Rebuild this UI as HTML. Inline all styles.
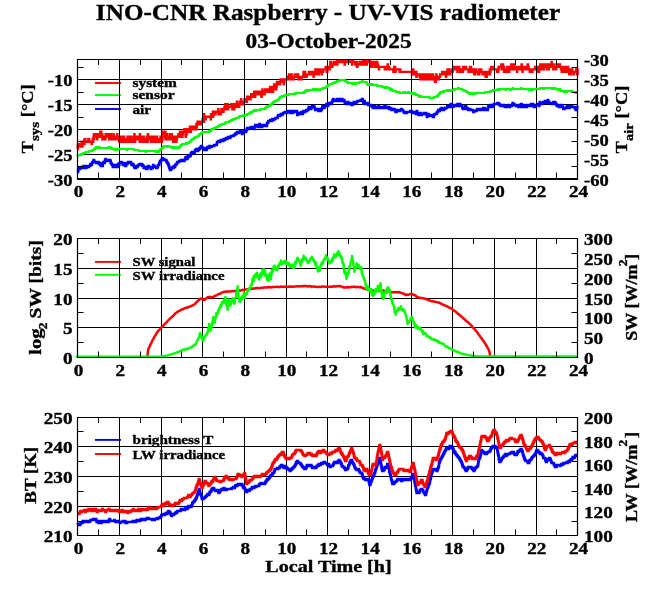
<!DOCTYPE html>
<html><head><meta charset="utf-8"><title>INO-CNR Raspberry - UV-VIS radiometer</title><style>html,body{margin:0;padding:0;background:#fff;width:660px;height:595px;overflow:hidden;}svg{display:block;will-change:transform;}text{stroke:#000;stroke-width:0.35px;}</style></head><body>
<svg width="660" height="595" viewBox="0 0 660 595" font-family="'Liberation Serif', serif" font-weight="bold">
<rect width="660" height="595" fill="#fff"/>
<text x="328.00" y="19.90" font-size="24.03" text-anchor="middle" textLength="464.24" lengthAdjust="spacingAndGlyphs">INO-CNR Raspberry - UV-VIS radiometer</text>
<text x="328.55" y="47.70" font-size="20.66" text-anchor="middle" textLength="166.04" lengthAdjust="spacingAndGlyphs">03-October-2025</text>
<path d="M77.5 79.5H577.5M77.5 104.5H577.5M77.5 129.5H577.5M77.5 154.5H577.5" stroke="#000" stroke-width="1" fill="none"/>
<clipPath id="c59"><rect x="76.0" y="59.5" width="503.0" height="120.5"/></clipPath>
<g clip-path="url(#c59)">
<path d="M77.5 149.1H77.7V146.6H78.0V144.1H78.2V146.6H78.5V144.1H78.7V146.6H79.3V144.1H79.8V146.6H80.3V144.1H81.0V146.6H81.2V144.1H81.7V141.7H81.8V146.6H82.0V144.1H82.3V146.6H82.5V141.7H82.7V144.1H83.7V141.7H84.3V144.1H84.5V139.2H84.7V141.7H85.0V139.2H85.3V141.7H88.3V139.2H88.5V141.7H89.0V139.2H89.2V141.7H91.7V144.1H91.8V141.7H92.7V139.2H93.0V141.7H93.2V139.2H93.5V136.7H93.8V139.2H94.0V134.2H94.2V139.2H94.3V136.7H94.8V134.2H95.0V136.7H95.3V134.2H95.7V136.7H96.8V134.2H97.0V136.7H97.2V139.2H97.3V134.2H97.8V136.7H98.3V134.2H98.5V136.7H100.2V134.2H100.3V131.7H100.5V134.2H100.7V136.7H100.8V134.2H101.2V131.7H101.3V136.7H101.5V134.2H102.3V139.2H102.5V136.7H102.7V139.2H102.8V136.7H104.0V139.2H104.2V136.7H105.3V139.2H105.5V136.7H105.7V134.2H105.8V136.7H107.7V134.2H107.8V136.7H109.2V139.2H109.3V134.2H109.5V136.7H109.8V134.2H110.0V136.7H110.3V134.2H110.5V139.2H110.7V136.7H110.8V134.2H111.0V136.7H112.8V139.2H113.0V136.7H113.5V134.2H113.7V136.7H114.5V139.2H114.8V136.7H115.0V139.2H115.3V136.7H115.8V139.2H116.0V136.7H116.3V139.2H116.5V136.7H117.2V134.2H117.3V136.7H117.5V139.2H117.7V136.7H117.8V139.2H118.5V136.7H118.7V139.2H118.8V136.7H119.0V139.2H119.2V141.7H119.3V139.2H119.7V136.7H119.8V139.2H120.5V141.7H120.7V139.2H121.0V136.7H121.2V139.2H121.5V136.7H121.7V139.2H122.5V141.7H122.7V139.2H124.0V136.7H124.2V139.2H124.3V141.7H124.5V139.2H124.8V141.7H125.0V139.2H125.2V141.7H125.3V139.2H126.2V141.7H126.3V139.2H126.7V141.7H127.0V139.2H127.3V141.7H127.5V136.7H128.0V141.7H128.2V136.7H128.4V139.2H128.7V141.7H128.9V136.7H129.0V139.2H129.4V141.7H129.5V139.2H130.7V136.7H130.9V139.2H131.5V141.7H131.7V139.2H132.7V141.7H132.9V139.2H133.5V136.7H133.7V141.7H134.2V139.2H134.4V134.2H134.5V139.2H135.0V141.7H135.2V139.2H135.9V136.7H136.0V139.2H136.5V136.7H136.7V139.2H138.0V136.7H138.2V139.2H138.9V136.7H139.0V139.2H139.7V141.7H139.9V134.2H140.0V136.7H140.2V139.2H140.9V136.7H141.2V139.2H141.4V141.7H141.5V139.2H141.7V141.7H141.9V139.2H142.5V136.7H142.9V141.7H143.0V139.2H143.5V136.7H143.7V139.2H144.0V141.7H144.2V139.2H144.9V141.7H145.0V139.2H145.2V141.7H145.4V139.2H145.5V141.7H145.7V139.2H146.7V136.7H146.9V139.2H147.4V136.7H147.5V141.7H147.7V136.7H147.9V134.2H148.0V136.7H148.7V139.2H149.7V136.7H149.9V139.2H150.5V136.7H150.9V141.7H151.0V139.2H151.5V136.7H151.7V141.7H151.9V139.2H152.0V141.7H152.2V139.2H153.2V141.7H153.4V136.7H153.5V139.2H155.4V141.7H155.5V136.7H155.7V139.2H156.4V141.7H156.5V139.2H156.9V136.7H157.0V139.2H157.9V141.7H158.0V139.2H158.2V141.7H158.4V139.2H159.7V141.7H160.0V139.2H160.5V136.7H160.7V139.2H161.0V141.7H161.4V139.2H161.5V141.7H161.9V136.7H162.4V139.2H162.5V136.7H162.7V131.7H162.9V134.2H163.2V136.7H163.4V134.2H164.5V131.7H164.9V134.2H165.2V131.7H165.4V139.2H165.5V134.2H165.7V136.7H166.0V139.2H166.2V136.7H166.9V134.2H167.2V136.7H167.7V139.2H167.9V136.7H169.9V134.2H170.0V139.2H170.2V136.7H171.4V139.2H171.5V136.7H171.7V134.2H171.9V136.7H172.5V139.2H173.2V141.7H173.4V139.2H173.5V141.7H173.7V139.2H174.5V136.7H174.7V139.2H176.2V141.7H176.4V136.7H176.7V139.2H176.9V136.7H178.4V134.2H178.7V136.7H178.9V134.2H180.0V131.7H180.2V134.2H180.7V131.7H180.9V134.2H181.2V136.7H181.4V134.2H182.0V131.7H182.2V136.7H182.4V134.2H183.0V131.7H184.4V129.2H184.5V131.7H185.2V129.2H185.5V131.7H185.7V136.7H185.9V131.7H186.5V134.2H186.7V131.7H187.4V129.2H187.5V131.7H188.4V129.2H189.5V131.7H189.7V129.2H189.9V126.7H190.0V129.2H190.2V126.7H190.4V129.2H190.7V131.7H190.9V129.2H191.0V126.7H191.7V129.2H191.9V126.7H192.0V129.2H192.2V126.7H193.5V129.2H193.9V126.7H195.7V129.2H195.9V126.7H196.2V129.2H196.4V124.2H196.5V126.7H196.7V124.2H197.5V121.7H197.7V124.2H199.7V121.7H201.0V124.2H201.5V121.7H202.7V119.2H202.9V121.7H203.2V119.2H203.9V121.7H204.0V114.3H204.2V116.8H204.4V119.2H204.5V116.8H205.7V119.2H205.9V116.8H210.7V119.2H210.9V116.8H211.0V114.3H211.2V116.8H212.9V111.8H213.0V116.8H213.2V114.3H214.2V111.8H214.4V114.3H214.9V111.8H215.2V114.3H215.5V111.8H218.2V109.3H218.4V114.3H218.5V111.8H219.5V114.3H219.7V111.8H220.7V114.3H220.9V111.8H221.4V109.3H223.4V111.8H223.5V109.3H224.5V106.8H225.2V104.3H225.4V106.8H226.0V104.3H226.2V106.8H226.5V109.3H226.7V106.8H227.4V104.3H227.6V106.8H228.1V109.3H228.2V106.8H231.4V104.3H231.7V106.8H232.4V109.3H232.6V106.8H232.7V104.3H232.9V106.8H234.2V109.3H234.4V106.8H234.7V104.3H234.9V106.8H235.1V104.3H235.4V106.8H235.6V104.3H235.9V106.8H236.1V104.3H236.7V106.8H236.9V101.8H237.2V104.3H238.4V106.8H238.6V104.3H239.1V106.8H239.2V104.3H239.9V101.8H240.4V104.3H240.9V101.8H241.1V99.3H241.2V101.8H241.6V104.3H241.7V101.8H242.9V104.3H243.1V101.8H244.6V99.3H244.7V101.8H244.9V99.3H245.7V101.8H245.9V99.3H246.1V101.8H246.2V99.3H246.7V101.8H246.9V99.3H247.2V96.8H247.4V99.3H249.6V96.8H249.7V99.3H250.6V96.8H251.2V94.3H251.4V96.8H252.1V94.3H252.2V96.8H252.6V94.3H252.9V96.8H253.2V94.3H253.7V96.8H253.9V94.3H254.1V91.8H254.2V94.3H254.4V96.8H254.6V94.3H254.7V91.8H254.9V94.3H255.1V96.8H255.2V94.3H256.9V91.8H257.1V94.3H257.4V91.8H258.6V94.3H258.7V91.8H259.4V94.3H260.2V91.8H260.4V94.3H261.4V96.8H261.7V94.3H261.9V91.8H262.4V89.4H262.6V94.3H262.7V91.8H264.2V94.3H264.4V91.8H264.6V94.3H264.7V91.8H265.2V89.4H265.4V91.8H265.6V89.4H265.7V91.8H265.9V89.4H266.1V91.8H267.1V89.4H267.2V91.8H268.9V89.4H270.1V86.9H270.2V91.8H270.4V86.9H270.6V89.4H271.7V86.9H272.1V89.4H272.7V91.8H273.1V89.4H273.4V86.9H273.7V89.4H273.9V86.9H274.1V84.4H274.2V86.9H275.4V84.4H275.7V86.9H276.1V89.4H276.2V86.9H276.6V84.4H276.9V81.9H277.1V84.4H278.6V81.9H278.7V84.4H279.1V81.9H279.2V84.4H280.1V81.9H280.6V79.4H280.9V81.9H281.1V79.4H281.2V81.9H282.2V79.4H282.4V81.9H282.9V79.4H283.1V81.9H283.7V84.4H283.9V81.9H284.4V79.4H287.7V76.9H288.9V74.4H289.2V76.9H289.6V79.4H289.7V76.9H290.2V74.4H290.4V76.9H291.1V79.4H291.2V76.9H291.6V74.4H291.7V76.9H291.9V79.4H292.1V76.9H292.6V79.4H292.7V76.9H293.1V79.4H293.2V76.9H293.7V79.4H293.9V76.9H294.7V74.4H294.9V76.9H296.4V74.4H296.6V76.9H298.1V74.4H298.2V76.9H298.4V79.4H298.6V76.9H299.6V79.4H299.7V76.9H301.4V79.4H301.6V76.9H303.4V74.4H303.6V71.9H303.7V74.4H304.1V76.9H304.2V74.4H304.9V71.9H305.1V74.4H305.6V76.9H305.7V74.4H306.6V76.9H306.7V74.4H308.9V71.9H309.1V74.4H309.4V71.9H309.6V74.4H311.1V71.9H311.2V74.4H313.1V71.9H313.4V74.4H313.6V76.9H313.7V71.9H313.9V74.4H314.1V71.9H314.6V74.4H314.7V71.9H315.4V69.4H315.6V74.4H315.7V71.9H316.1V74.4H316.4V71.9H317.2V69.4H317.6V71.9H317.7V74.4H317.9V71.9H318.4V74.4H318.6V71.9H318.7V74.4H318.9V71.9H319.4V69.4H319.6V71.9H320.2V69.4H320.6V71.9H321.6V74.4H321.7V71.9H323.1V69.4H325.6V66.9H325.7V69.4H326.6V71.9H326.7V66.9H326.9V69.4H327.2V71.9H327.4V69.4H327.9V66.9H328.1V69.4H328.3V66.9H328.6V69.4H328.8V66.9H329.6V69.4H329.9V66.9H330.3V62.0H330.4V66.9H330.6V64.5H330.9V66.9H331.1V62.0H331.3V64.5H331.6V66.9H331.8V64.5H332.3V66.9H332.4V64.5H334.1V62.0H334.3V64.5H334.9V62.0H335.1V64.5H335.3V62.0H336.8V64.5H336.9V59.5H337.1V64.5H337.3V59.5H337.4V62.0H338.3V59.5H338.4V62.0H339.9V59.5H340.1V62.0H340.6V59.5H340.8V62.0H342.4V59.5H342.8V62.0H343.1V59.5H343.3V62.0H344.3V59.5H344.4V62.0H344.6V64.5H344.8V59.5H344.9V62.0H345.1V59.5H345.4V62.0H346.4V59.5H346.6V62.0H347.1V59.5H347.3V62.0H349.4V59.5H349.6V62.0H352.1V64.5H352.3V62.0H352.4V59.5H352.6V62.0H355.3V64.5H355.4V62.0H355.8V64.5H356.9V66.9H357.1V62.0H357.3V66.9H357.4V64.5H360.1V62.0H360.6V64.5H360.8V62.0H361.4V64.5H361.6V62.0H362.8V64.5H362.9V62.0H363.1V59.5H363.3V64.5H363.4V62.0H363.8V64.5H363.9V62.0H365.6V59.5H365.8V62.0H366.3V64.5H366.4V62.0H366.6V64.5H366.8V62.0H368.4V59.5H368.6V62.0H368.8V59.5H368.9V62.0H369.6V59.5H369.8V62.0H370.4V64.5H370.8V62.0H371.3V66.9H371.4V64.5H371.6V66.9H371.8V64.5H371.9V62.0H372.1V64.5H372.3V66.9H372.4V64.5H372.9V62.0H373.3V64.5H374.3V62.0H374.4V64.5H374.9V62.0H375.1V66.9H375.3V64.5H375.6V62.0H375.8V64.5H377.1V62.0H377.3V64.5H377.6V66.9H377.8V64.5H378.1V66.9H378.9V69.4H379.1V66.9H384.8V69.4H384.9V66.9H386.9V69.4H387.1V66.9H387.3V69.4H387.4V66.9H387.6V64.5H387.8V69.4H389.1V66.9H389.3V69.4H393.3V71.9H393.4V69.4H394.1V66.9H394.3V69.4H394.4V66.9H394.8V69.4H394.9V66.9H395.1V69.4H395.4V71.9H395.6V69.4H399.6V71.9H399.8V69.4H400.3V71.9H411.9V74.4H412.1V71.9H413.1V69.4H413.3V71.9H413.6V74.4H413.8V71.9H413.9V74.4H414.1V71.9H414.9V74.4H416.3V71.9H416.4V76.9H416.6V74.4H419.6V76.9H419.8V74.4H420.3V79.4H420.4V76.9H421.3V79.4H421.4V76.9H422.1V79.4H422.3V76.9H422.6V74.4H422.8V76.9H424.3V74.4H424.4V76.9H424.6V79.4H424.8V76.9H425.4V79.4H425.6V76.9H425.8V74.4H426.1V76.9H426.3V79.4H426.4V74.4H426.6V76.9H427.3V74.4H427.4V76.9H428.0V79.4H428.3V76.9H429.5V74.4H429.6V79.4H430.0V76.9H430.3V74.4H430.5V76.9H430.8V79.4H431.0V76.9H431.8V74.4H432.0V76.9H433.0V74.4H433.1V79.4H434.5V76.9H434.6V79.4H435.0V81.9H435.1V79.4H435.3V81.9H435.5V79.4H435.6V81.9H435.8V76.9H436.0V79.4H436.1V76.9H436.3V74.4H436.5V76.9H437.3V79.4H437.5V76.9H437.6V79.4H438.0V76.9H438.5V79.4H438.6V76.9H438.8V79.4H439.0V76.9H440.1V74.4H442.1V71.9H442.3V74.4H443.8V71.9H444.6V74.4H445.8V71.9H446.0V76.9H446.1V74.4H446.3V71.9H447.5V69.4H447.8V71.9H448.1V74.4H448.3V71.9H448.8V69.4H449.0V71.9H450.1V74.4H450.3V71.9H451.6V69.4H452.0V71.9H452.1V69.4H452.5V71.9H452.6V69.4H453.6V66.9H454.0V69.4H455.1V66.9H455.3V69.4H456.0V66.9H456.1V69.4H456.5V66.9H456.6V69.4H457.5V71.9H457.6V69.4H458.3V66.9H458.5V69.4H459.1V66.9H459.3V69.4H460.1V71.9H460.3V69.4H461.5V71.9H461.6V69.4H462.8V71.9H463.0V69.4H463.1V66.9H463.3V69.4H464.0V66.9H464.1V69.4H465.8V66.9H466.0V69.4H468.5V71.9H468.6V69.4H470.0V66.9H470.1V69.4H470.8V71.9H471.0V66.9H471.1V69.4H471.5V71.9H471.6V69.4H472.5V71.9H472.8V69.4H473.5V71.9H474.1V74.4H474.3V71.9H474.8V74.4H475.1V71.9H475.6V69.4H475.8V71.9H476.1V69.4H476.3V71.9H478.0V74.4H478.1V71.9H479.1V74.4H479.3V69.4H479.5V71.9H481.1V69.4H481.3V71.9H482.5V74.4H483.5V71.9H483.8V74.4H484.6V71.9H484.8V74.4H485.6V76.9H485.8V74.4H486.0V76.9H486.1V74.4H486.3V71.9H486.5V74.4H486.6V76.9H486.8V71.9H487.6V74.4H487.8V71.9H489.6V74.4H489.8V69.4H490.0V71.9H490.5V69.4H491.1V66.9H491.3V69.4H493.3V66.9H493.5V69.4H497.0V71.9H497.1V69.4H498.0V71.9H498.3V69.4H498.6V66.9H501.3V64.5H501.5V66.9H501.6V69.4H502.3V66.9H503.0V64.5H503.1V66.9H503.3V69.4H503.5V66.9H503.8V69.4H504.0V71.9H504.1V69.4H504.5V71.9H504.6V69.4H505.8V71.9H506.0V69.4H507.1V66.9H507.5V69.4H507.8V71.9H508.0V69.4H508.6V71.9H508.8V69.4H509.0V66.9H509.1V71.9H509.3V69.4H509.5V66.9H509.6V69.4H511.0V66.9H511.3V64.5H511.5V66.9H511.8V69.4H512.0V66.9H512.1V64.5H512.5V66.9H513.0V69.4H513.1V66.9H513.8V64.5H514.0V66.9H514.1V69.4H514.3V66.9H516.3V69.4H516.6V66.9H516.8V69.4H517.0V71.9H517.1V69.4H517.3V66.9H517.5V69.4H519.0V66.9H521.1V69.4H521.3V66.9H521.6V64.5H521.8V66.9H522.3V69.4H522.5V71.9H522.6V69.4H523.0V66.9H523.5V69.4H524.1V66.9H524.5V69.4H525.8V66.9H526.3V69.4H527.0V66.9H527.7V64.5H528.0V69.4H528.2V66.9H528.3V69.4H528.5V66.9H528.7V69.4H529.8V71.9H530.0V69.4H531.2V71.9H531.3V69.4H532.0V71.9H532.2V69.4H532.3V71.9H532.5V69.4H535.0V66.9H535.2V69.4H536.3V66.9H536.5V69.4H536.7V66.9H536.8V69.4H537.0V66.9H537.2V69.4H537.3V71.9H537.5V69.4H538.0V66.9H538.3V69.4H538.8V71.9H539.2V69.4H540.2V64.5H540.3V69.4H540.5V66.9H540.7V69.4H540.8V66.9H541.5V69.4H542.0V66.9H542.7V64.5H542.8V66.9H543.0V69.4H543.2V66.9H543.3V64.5H543.5V66.9H543.7V69.4H543.8V66.9H545.3V64.5H545.5V66.9H545.7V64.5H546.0V66.9H546.5V64.5H546.7V66.9H546.8V69.4H547.0V66.9H548.5V69.4H548.7V64.5H548.8V69.4H549.0V66.9H550.2V64.5H550.3V66.9H550.5V64.5H551.0V66.9H551.3V64.5H551.5V62.0H551.7V64.5H552.0V66.9H552.2V64.5H552.3V66.9H552.5V64.5H552.7V66.9H552.8V64.5H553.3V69.4H553.5V64.5H553.7V66.9H556.0V69.4H556.2V66.9H556.5V64.5H556.7V66.9H557.5V64.5H557.7V66.9H557.8V64.5H558.0V66.9H559.8V64.5H560.0V66.9H561.0V69.4H561.8V71.9H562.0V69.4H562.5V71.9H562.7V69.4H563.5V66.9H563.7V69.4H563.8V71.9H564.0V69.4H564.2V71.9H564.3V69.4H565.5V66.9H565.7V69.4H566.2V71.9H566.3V69.4H566.5V71.9H566.7V69.4H567.0V66.9H567.2V71.9H567.5V69.4H568.0V66.9H568.2V69.4H568.7V71.9H569.2V74.4H569.3V71.9H570.0V69.4H570.2V71.9H571.0V74.4H571.2V71.9H572.2V69.4H572.3V71.9H573.8V74.4H574.0V71.9H576.2V69.4H576.3V71.9H577.2V74.4H577.3V69.4H577.5V74.4H577.5" fill="none" stroke="#ff0000" stroke-width="2.40" stroke-linejoin="miter" stroke-linecap="butt"/>
</g>
<path d="M119.5 59.5V178.0M161.5 59.5V178.0M202.5 59.5V178.0M244.5 59.5V178.0M286.5 59.5V178.0M327.5 59.5V178.0M369.5 59.5V178.0M411.5 59.5V178.0M452.5 59.5V178.0M494.5 59.5V178.0M536.5 59.5V178.0" stroke="#000" stroke-width="1" fill="none"/>
<g clip-path="url(#c59)">
<path d="M77.5 156.00H77.7V155.00H80.8V154.00H81.1V155.00H81.5V154.00H83.2V153.00H85.7V152.00H89.1V151.00H92.3V150.00H94.0V149.00H95.0V148.00H96.1V147.00H97.8V148.00H99.2V147.00H99.6V148.00H108.6V147.00H109.3V148.00H109.6V147.00H110.0V148.00H112.1V149.00H114.5V150.00H114.9V149.00H116.9V150.00H117.3V149.00H127.0V150.00H127.4V149.00H134.0V150.00H138.8V151.00H145.8V152.00H146.1V151.00H155.5V152.00H155.9V151.00H156.2V152.00H156.5V151.00H157.2V152.00H158.6V151.00H159.7V150.00H160.4V149.00H162.1V148.00H163.1V147.00H163.8V146.00H167.0V147.00H167.3V146.00H169.8V147.00H172.2V148.00H173.9V147.00H174.6V148.00H177.4V147.00H177.7V148.00H178.1V147.00H178.8V148.00H179.1V147.00H180.2V146.00H180.9V145.00H182.3V144.00H186.1V143.00H186.4V144.00H186.8V143.00H188.9V142.00H190.3V141.00H191.3V140.00H192.3V139.00H194.1V138.00H195.1V137.00H197.5V136.00H198.9V135.00H199.6V134.00H201.4V133.00H202.4V132.00H209.4V131.00H210.8V130.00H211.4V129.00H214.2V128.00H216.3V127.00H218.0V126.00H219.4V125.00H221.5V124.00H225.0V123.00H226.0V122.00H229.2V121.00H231.3V120.00H233.3V119.00H233.7V120.00H234.0V119.00H235.8V118.00H238.5V117.00H239.6V116.00H243.4V115.00H244.1V116.00H245.2V115.00H247.2V114.00H249.3V113.00H250.7V112.00H251.1V113.00H251.4V112.00H252.8V111.00H254.2V110.00H254.5V111.00H254.9V110.00H255.2V111.00H256.3V110.00H260.4V109.00H265.3V108.00H266.0V107.00H267.4V106.00H267.7V107.00H268.1V106.00H269.8V105.00H271.2V104.00H272.3V103.00H273.3V102.00H274.7V101.00H276.8V100.00H278.5V99.00H279.2V98.00H280.2V97.00H282.0V96.00H282.3V97.00H282.7V96.00H284.8V95.00H288.9V94.00H295.5V93.00H303.5V92.00H303.9V93.00H304.6V92.00H305.3V91.00H306.0V90.00H306.3V91.00H306.7V90.00H307.0V91.00H309.1V90.00H312.9V89.00H315.3V90.00H316.7V89.00H317.4V90.00H320.2V89.00H322.6V88.00H325.8V87.00H326.8V86.00H328.2V85.00H329.6V84.00H332.4V83.00H335.1V82.00H337.2V81.00H339.7V80.00H344.9V81.00H346.3V82.00H347.7V83.00H352.2V84.00H353.9V83.00H355.3V84.00H356.0V83.00H359.5V82.00H362.2V81.00H362.6V82.00H366.4V83.00H367.1V84.00H367.8V85.00H369.2V84.00H369.5V85.00H370.9V84.00H372.3V85.00H377.2V86.00H382.1V87.00H384.5V88.00H385.9V87.00H386.2V88.00H386.9V87.00H387.3V88.00H390.0V89.00H390.4V90.00H391.4V89.00H391.8V90.00H392.8V91.00H396.0V92.00H399.4V93.00H403.6V92.00H405.0V93.00H408.1V92.00H408.5V93.00H412.3V94.00H412.6V93.00H413.0V94.00H413.7V93.00H414.4V94.00H416.1V95.00H418.5V96.00H419.2V97.00H419.9V96.00H421.3V97.00H429.7V98.00H433.8V97.00H436.6V96.00H438.0V95.00H438.7V94.00H439.7V93.00H440.4V92.00H443.2V91.00H443.6V92.00H443.9V91.00H446.7V90.00H448.1V91.00H450.5V90.00H454.3V89.00H458.1V88.00H458.8V89.00H462.3V90.00H464.1V91.00H466.5V92.00H467.9V93.00H469.3V94.00H470.0V93.00H470.7V94.00H472.4V93.00H472.7V94.00H475.5V93.00H484.9V92.00H490.5V91.00H492.9V90.00H497.8V89.00H498.8V90.00H500.2V89.00H505.7V90.00H506.1V89.00H510.3V90.00H511.3V89.00H512.7V88.00H513.0V89.00H520.7V88.00H521.7V89.00H528.0V90.00H528.3V89.00H528.7V90.00H529.4V89.00H530.1V90.00H530.4V89.00H531.1V90.00H532.9V89.00H540.1V88.00H543.3V89.00H544.3V88.00H552.0V89.00H552.3V88.00H553.7V89.00H554.4V88.00H555.4V89.00H557.9V90.00H559.6V89.00H560.0V90.00H561.0V91.00H564.1V92.00H564.8V91.00H566.6V92.00H566.9V91.00H572.1V92.00H575.9V93.00H576.3V92.00H577.5" fill="none" stroke="#00ff00" stroke-width="2.20" stroke-linejoin="miter" stroke-linecap="butt"/>
<path d="M77.5 172.00H78.0V171.00H78.4V169.00H78.7V168.00H79.1V169.00H80.1V168.00H80.8V167.00H81.1V168.00H82.2V167.00H83.6V166.00H84.3V168.00H86.4V167.00H86.7V166.00H87.8V167.00H88.8V166.00H90.2V165.00H90.5V164.00H91.2V165.00H91.6V164.00H91.9V163.00H92.6V162.00H93.3V161.00H93.7V160.00H94.0V161.00H94.4V162.00H96.1V163.00H96.4V162.00H97.5V163.00H98.2V162.00H98.5V163.00H98.9V164.00H99.2V163.00H100.3V165.00H101.0V166.00H101.3V165.00H102.0V166.00H102.7V164.00H103.0V163.00H103.4V162.00H104.4V163.00H104.8V161.00H105.1V160.00H105.5V159.00H105.8V160.00H107.2V161.00H108.3V160.00H108.9V161.00H109.6V160.00H110.3V161.00H110.7V163.00H111.4V164.00H112.1V165.00H112.8V167.00H114.2V166.00H114.9V165.00H115.9V167.00H117.6V166.00H118.0V164.00H119.0V165.00H119.4V163.00H120.8V162.00H121.5V163.00H122.8V165.00H123.9V163.00H124.6V164.00H124.9V165.00H125.3V166.00H126.0V165.00H126.3V164.00H127.4V163.00H128.1V162.00H129.1V163.00H129.4V162.00H130.8V163.00H131.5V165.00H132.9V164.00H133.3V165.00H133.6V166.00H134.3V167.00H134.7V168.00H135.4V167.00H135.7V168.00H136.0V167.00H136.7V166.00H137.1V167.00H137.4V166.00H138.1V165.00H139.5V164.00H142.0V165.00H142.3V166.00H142.6V165.00H143.0V166.00H143.7V168.00H144.0V167.00H144.7V168.00H145.1V167.00H146.1V169.00H146.5V168.00H146.8V169.00H147.2V168.00H147.5V167.00H147.9V166.00H148.9V167.00H150.6V169.00H151.3V167.00H151.7V168.00H152.0V167.00H152.4V168.00H152.7V167.00H153.1V165.00H153.4V166.00H154.8V167.00H156.2V168.00H156.5V167.00H156.9V168.00H157.2V167.00H157.9V165.00H159.3V163.00H159.7V162.00H160.0V161.00H160.4V162.00H160.7V161.00H161.1V160.00H161.8V159.00H162.5V158.00H162.8V159.00H164.2V160.00H166.3V161.00H166.6V162.00H167.3V163.00H168.0V164.00H168.4V165.00H168.7V166.00H169.1V167.00H169.4V168.00H169.8V169.00H170.1V170.00H170.8V169.00H171.8V168.00H172.5V167.00H172.9V168.00H173.6V167.00H173.9V166.00H174.6V167.00H175.0V166.00H175.3V165.00H176.0V164.00H177.0V163.00H177.4V162.00H179.1V161.00H180.9V160.00H181.9V161.00H183.0V160.00H184.0V161.00H184.3V160.00H185.0V159.00H185.4V158.00H185.7V157.00H186.4V159.00H186.8V158.00H187.1V159.00H187.5V157.00H187.8V156.00H188.5V157.00H189.2V155.00H189.9V156.00H190.6V155.00H190.9V153.00H192.0V152.00H194.1V153.00H194.4V152.00H194.8V151.00H195.1V150.00H196.2V149.00H196.5V150.00H197.2V151.00H197.9V150.00H198.2V149.00H198.6V150.00H198.9V149.00H199.3V148.00H199.6V149.00H200.0V148.00H200.7V147.00H201.0V146.00H201.7V147.00H202.4V148.00H204.2V149.00H204.5V150.00H205.5V149.00H206.2V150.00H206.6V149.00H206.9V148.00H207.3V147.00H208.3V148.00H209.4V146.00H211.4V147.00H211.8V146.00H214.2V145.00H216.7V144.00H217.0V142.00H218.4V141.00H219.4V142.00H220.1V141.00H220.8V140.00H221.2V141.00H221.5V140.00H222.6V141.00H223.3V140.00H223.6V139.00H224.3V140.00H225.0V139.00H226.0V138.00H227.1V139.00H227.4V138.00H228.1V137.00H228.5V138.00H228.8V137.00H229.2V138.00H229.5V137.00H229.9V138.00H230.2V137.00H230.9V136.00H233.7V135.00H235.1V134.00H235.8V133.00H236.1V134.00H236.5V133.00H237.2V132.00H237.5V133.00H238.5V132.00H238.9V133.00H239.2V132.00H239.9V131.00H240.3V132.00H241.0V131.00H241.3V132.00H242.0V134.00H242.4V133.00H243.8V132.00H244.1V131.00H244.5V130.00H244.8V131.00H245.5V132.00H245.8V131.00H246.5V130.00H246.9V129.00H247.2V128.00H248.3V129.00H248.6V128.00H250.7V127.00H251.8V128.00H252.1V127.00H253.5V128.00H254.2V129.00H254.5V127.00H255.2V125.00H256.3V126.00H257.0V125.00H257.3V126.00H258.0V127.00H258.4V126.00H259.4V124.00H259.7V125.00H260.1V126.00H260.4V127.00H262.2V125.00H264.3V126.00H266.7V125.00H267.0V123.00H268.1V122.00H268.4V121.00H270.2V120.00H271.2V121.00H271.9V120.00H272.3V119.00H272.9V120.00H274.0V119.00H275.4V118.00H277.5V117.00H277.8V116.00H278.2V115.00H278.5V116.00H279.2V115.00H279.9V116.00H280.2V115.00H280.9V114.00H282.0V115.00H282.3V114.00H283.0V113.00H284.8V112.00H285.1V113.00H287.2V112.00H288.2V111.00H289.3V112.00H290.3V113.00H290.7V112.00H291.7V111.00H292.1V112.00H292.8V113.00H293.1V112.00H293.8V111.00H295.5V112.00H296.2V111.00H296.9V112.00H297.3V115.00H298.0V114.00H298.7V113.00H299.7V114.00H300.7V113.00H301.1V112.00H301.4V113.00H302.1V114.00H302.8V113.00H303.2V112.00H303.5V111.00H304.2V112.00H305.3V111.00H306.3V110.00H306.7V111.00H307.0V110.00H308.4V109.00H308.7V107.00H309.4V108.00H310.1V109.00H310.5V108.00H310.8V109.00H311.2V108.00H311.5V107.00H312.2V106.00H312.6V107.00H312.9V106.00H313.3V107.00H313.6V106.00H313.9V107.00H314.6V108.00H315.0V109.00H315.3V110.00H315.7V109.00H316.0V110.00H316.4V109.00H316.7V110.00H317.4V109.00H317.8V110.00H318.5V111.00H318.8V110.00H319.5V109.00H319.9V110.00H320.2V109.00H320.6V111.00H320.9V110.00H321.6V109.00H321.9V108.00H322.3V107.00H322.6V106.00H323.0V107.00H323.3V108.00H324.4V107.00H324.7V106.00H326.1V105.00H326.5V104.00H326.8V105.00H327.5V106.00H327.8V105.00H328.5V104.00H329.2V103.00H329.6V104.00H329.9V103.00H330.3V104.00H330.6V103.00H331.0V104.00H331.3V103.00H331.7V102.00H332.4V101.00H332.7V100.00H333.1V99.00H333.4V100.00H334.4V101.00H336.5V100.00H336.9V99.00H337.2V100.00H337.6V101.00H337.9V100.00H338.3V99.00H338.6V100.00H339.0V101.00H340.4V100.00H340.7V99.00H341.1V100.00H341.4V99.00H342.4V100.00H342.8V101.00H343.1V100.00H343.5V101.00H343.8V100.00H344.2V101.00H344.5V102.00H344.9V103.00H346.3V104.00H347.0V103.00H347.7V102.00H348.3V103.00H348.7V104.00H349.0V103.00H350.8V104.00H351.5V105.00H352.5V104.00H353.2V103.00H353.6V104.00H353.9V102.00H354.6V103.00H356.3V102.00H357.4V101.00H360.5V100.00H360.9V101.00H361.2V100.00H362.2V99.00H362.6V100.00H362.9V101.00H363.3V103.00H363.6V102.00H364.3V101.00H364.7V103.00H365.0V104.00H367.1V103.00H367.5V104.00H368.2V105.00H371.3V106.00H372.3V107.00H373.0V108.00H373.7V107.00H374.8V106.00H375.1V107.00H375.8V108.00H376.1V107.00H377.2V108.00H378.2V107.00H378.6V106.00H378.9V107.00H379.3V108.00H380.0V107.00H381.0V108.00H382.1V107.00H383.1V108.00H384.1V107.00H384.5V106.00H385.5V107.00H386.6V108.00H388.0V107.00H389.0V109.00H390.0V108.00H391.1V109.00H391.4V110.00H392.1V109.00H393.2V110.00H393.5V109.00H394.6V110.00H395.3V111.00H395.6V112.00H396.6V111.00H397.0V110.00H398.7V111.00H399.8V110.00H401.2V109.00H401.5V110.00H402.9V111.00H403.6V112.00H404.3V113.00H405.3V112.00H405.7V113.00H406.7V112.00H410.2V111.00H411.9V112.00H412.3V113.00H413.3V112.00H414.4V113.00H415.8V114.00H416.1V113.00H416.5V112.00H416.8V111.00H417.1V113.00H418.2V114.00H418.5V115.00H420.3V114.00H420.6V113.00H421.0V114.00H421.7V115.00H422.0V114.00H424.1V113.00H426.2V114.00H426.5V115.00H426.9V117.00H427.2V116.00H427.6V115.00H428.3V114.00H428.6V116.00H429.0V115.00H429.3V116.00H430.3V115.00H431.4V116.00H433.1V117.00H433.8V115.00H434.5V114.00H436.6V113.00H437.0V112.00H438.0V111.00H438.3V110.00H439.4V111.00H439.7V110.00H440.1V109.00H441.1V110.00H441.5V108.00H442.5V109.00H442.9V110.00H443.9V109.00H445.3V108.00H447.0V107.00H447.4V106.00H448.1V107.00H449.5V106.00H450.2V105.00H450.8V104.00H451.2V105.00H451.5V106.00H451.9V107.00H453.3V106.00H454.0V105.00H455.0V106.00H455.4V105.00H456.4V106.00H456.8V105.00H457.5V104.00H457.8V105.00H458.8V106.00H459.2V105.00H459.9V104.00H460.2V105.00H460.6V106.00H462.3V108.00H463.0V109.00H463.4V108.00H463.7V109.00H464.1V108.00H464.4V109.00H464.7V108.00H465.1V107.00H465.4V106.00H466.1V108.00H466.5V109.00H467.2V108.00H467.5V109.00H468.2V110.00H469.3V109.00H470.3V110.00H473.1V111.00H473.4V112.00H474.1V111.00H476.6V110.00H477.3V109.00H477.6V110.00H479.3V109.00H481.1V110.00H481.4V109.00H481.8V110.00H482.5V109.00H483.2V108.00H483.5V109.00H483.9V108.00H484.6V109.00H484.9V110.00H485.6V109.00H485.9V110.00H486.3V109.00H487.0V110.00H487.7V109.00H488.0V107.00H488.4V106.00H488.7V107.00H489.8V106.00H490.1V105.00H490.5V106.00H490.8V105.00H491.2V106.00H491.5V107.00H492.5V106.00H493.2V105.00H493.9V104.00H497.4V103.00H498.5V104.00H499.1V105.00H499.5V104.00H499.8V105.00H500.5V106.00H500.9V105.00H501.6V106.00H503.3V105.00H504.4V106.00H504.7V107.00H506.4V106.00H507.5V107.00H508.2V106.00H508.5V105.00H508.9V107.00H509.2V106.00H509.6V107.00H509.9V106.00H512.0V105.00H512.4V104.00H512.7V103.00H513.0V104.00H514.4V105.00H515.8V106.00H516.2V105.00H516.5V106.00H518.3V107.00H519.0V106.00H519.3V105.00H519.6V106.00H520.0V107.00H520.3V106.00H521.0V104.00H521.7V105.00H522.4V106.00H522.8V107.00H523.1V106.00H523.8V105.00H524.2V106.00H524.5V107.00H525.6V106.00H526.2V107.00H526.9V106.00H527.3V105.00H528.0V106.00H528.3V105.00H528.7V106.00H529.4V105.00H529.7V106.00H530.8V105.00H531.1V104.00H531.5V105.00H532.5V104.00H533.2V105.00H533.5V106.00H533.9V107.00H534.6V106.00H534.9V105.00H537.7V104.00H538.1V105.00H538.8V106.00H539.1V105.00H539.5V104.00H539.8V102.00H540.1V103.00H541.2V104.00H542.6V103.00H543.3V102.00H543.6V103.00H544.3V102.00H545.0V101.00H546.1V102.00H546.4V103.00H547.1V102.00H547.4V101.00H547.8V100.00H548.1V101.00H548.5V102.00H549.2V103.00H551.6V104.00H553.0V103.00H553.4V102.00H554.4V103.00H554.7V102.00H555.1V103.00H555.8V104.00H556.5V105.00H556.8V106.00H557.9V105.00H558.6V106.00H558.9V107.00H559.6V106.00H560.0V107.00H560.3V106.00H561.3V105.00H561.7V106.00H562.4V107.00H563.1V108.00H563.4V109.00H564.5V108.00H566.6V107.00H566.9V106.00H567.6V107.00H567.9V106.00H568.3V107.00H568.6V108.00H569.7V106.00H570.0V107.00H571.1V106.00H572.1V107.00H574.5V108.00H575.2V109.00H575.9V110.00H576.3V109.00H577.0V107.00H577.3V108.00H577.5" fill="none" stroke="#0000ff" stroke-width="2.50" stroke-linejoin="miter" stroke-linecap="butt"/>
</g>
<path d="M98.5 178.0V172.5M98.5 59.5V65.0M140.5 178.0V172.5M140.5 59.5V65.0M181.5 178.0V172.5M181.5 59.5V65.0M223.5 178.0V172.5M223.5 59.5V65.0M265.5 178.0V172.5M265.5 59.5V65.0M306.5 178.0V172.5M306.5 59.5V65.0M348.5 178.0V172.5M348.5 59.5V65.0M390.5 178.0V172.5M390.5 59.5V65.0M431.5 178.0V172.5M431.5 59.5V65.0M473.5 178.0V172.5M473.5 59.5V65.0M515.5 178.0V172.5M515.5 59.5V65.0M556.5 178.0V172.5M556.5 59.5V65.0M77.5 67.5h6.0M577.5 67.5h-6.0M77.5 92.5h6.0M577.5 92.5h-6.0M77.5 117.5h6.0M577.5 117.5h-6.0M77.5 141.5h6.0M577.5 141.5h-6.0M77.5 166.5h6.0M577.5 166.5h-6.0" stroke="#000" stroke-width="1" fill="none"/>
<path d="M77.5 59.5H577.5V178.5H77.5Z" stroke="#000" stroke-width="1.2" fill="none"/>
<rect x="76.9" y="178" width="501.2" height="2" fill="#000"/>
<text x="72.50" y="185.50" font-size="16.70" text-anchor="end" textLength="24.73" lengthAdjust="spacingAndGlyphs">-30</text>
<text x="72.50" y="161.00" font-size="16.70" text-anchor="end" textLength="24.73" lengthAdjust="spacingAndGlyphs">-25</text>
<text x="72.50" y="136.00" font-size="16.70" text-anchor="end" textLength="24.73" lengthAdjust="spacingAndGlyphs">-20</text>
<text x="72.50" y="111.00" font-size="16.70" text-anchor="end" textLength="24.73" lengthAdjust="spacingAndGlyphs">-15</text>
<text x="72.50" y="86.00" font-size="16.70" text-anchor="end" textLength="24.73" lengthAdjust="spacingAndGlyphs">-10</text>
<text x="584.00" y="66.00" font-size="16.70" textLength="24.73" lengthAdjust="spacingAndGlyphs">-30</text>
<text x="584.00" y="85.92" font-size="16.70" textLength="24.73" lengthAdjust="spacingAndGlyphs">-35</text>
<text x="584.00" y="105.83" font-size="16.70" textLength="24.73" lengthAdjust="spacingAndGlyphs">-40</text>
<text x="584.00" y="125.75" font-size="16.70" textLength="24.73" lengthAdjust="spacingAndGlyphs">-45</text>
<text x="584.00" y="145.67" font-size="16.70" textLength="24.73" lengthAdjust="spacingAndGlyphs">-50</text>
<text x="584.00" y="165.58" font-size="16.70" textLength="24.73" lengthAdjust="spacingAndGlyphs">-55</text>
<text x="584.00" y="185.50" font-size="16.70" textLength="24.73" lengthAdjust="spacingAndGlyphs">-60</text>
<text x="78.50" y="196.90" font-size="16.70" text-anchor="middle" textLength="9.59" lengthAdjust="spacingAndGlyphs">0</text>
<text x="120.17" y="196.90" font-size="16.70" text-anchor="middle" textLength="9.59" lengthAdjust="spacingAndGlyphs">2</text>
<text x="161.83" y="196.90" font-size="16.70" text-anchor="middle" textLength="9.59" lengthAdjust="spacingAndGlyphs">4</text>
<text x="203.50" y="196.90" font-size="16.70" text-anchor="middle" textLength="9.59" lengthAdjust="spacingAndGlyphs">6</text>
<text x="245.17" y="196.90" font-size="16.70" text-anchor="middle" textLength="9.59" lengthAdjust="spacingAndGlyphs">8</text>
<text x="286.83" y="196.90" font-size="16.70" text-anchor="middle" textLength="19.17" lengthAdjust="spacingAndGlyphs">10</text>
<text x="328.50" y="196.90" font-size="16.70" text-anchor="middle" textLength="19.17" lengthAdjust="spacingAndGlyphs">12</text>
<text x="370.17" y="196.90" font-size="16.70" text-anchor="middle" textLength="19.17" lengthAdjust="spacingAndGlyphs">14</text>
<text x="411.83" y="196.90" font-size="16.70" text-anchor="middle" textLength="19.17" lengthAdjust="spacingAndGlyphs">16</text>
<text x="453.50" y="196.90" font-size="16.70" text-anchor="middle" textLength="19.17" lengthAdjust="spacingAndGlyphs">18</text>
<text x="495.17" y="196.90" font-size="16.70" text-anchor="middle" textLength="19.17" lengthAdjust="spacingAndGlyphs">20</text>
<text x="536.83" y="196.90" font-size="16.70" text-anchor="middle" textLength="19.17" lengthAdjust="spacingAndGlyphs">22</text>
<text x="578.50" y="196.90" font-size="16.70" text-anchor="middle" textLength="19.17" lengthAdjust="spacingAndGlyphs">24</text>
<path d="M77.5 268.5H577.5M77.5 298.5H577.5M77.5 327.5H577.5" stroke="#000" stroke-width="1" fill="none"/>
<path d="M119.5 238.5V357.0M161.5 238.5V357.0M202.5 238.5V357.0M244.5 238.5V357.0M286.5 238.5V357.0M327.5 238.5V357.0M369.5 238.5V357.0M411.5 238.5V357.0M452.5 238.5V357.0M494.5 238.5V357.0M536.5 238.5V357.0" stroke="#000" stroke-width="1" fill="none"/>
<clipPath id="c238"><rect x="76.0" y="238.5" width="503.0" height="119.5"/></clipPath>
<g clip-path="url(#c238)">
</g>
<g clip-path="url(#c238)">
<path d="M147.4 356.6L147.8 352.6 148.3 349.2 148.7 348.3 149.1 347.5 149.5 346.6 150.0 345.6 150.4 344.7 150.8 343.8 151.3 343.0 151.7 342.0 152.1 341.1 152.5 340.5 153.0 339.6 153.4 338.9 153.8 338.1 154.3 337.1 154.7 336.4 155.1 335.7 155.6 335.2 156.0 334.4 156.4 333.6 156.8 333.0 157.3 332.3 157.7 331.5 158.1 330.9 158.6 330.5 159.0 330.1 159.4 329.8 159.8 329.3 160.3 329.0 160.7 328.3 161.1 327.7 161.6 327.2 162.0 326.9 162.4 326.6 162.8 326.3 163.3 325.7 163.7 325.3 164.1 324.7 164.6 324.1 165.0 323.7 165.4 323.3 165.8 323.1 166.3 322.6 166.7 322.1 167.1 321.7 167.6 321.2 168.0 320.7 168.4 320.2 168.9 319.7 169.3 319.3 169.7 318.9 170.1 318.4 170.6 318.0 171.0 317.6 171.4 317.4 171.9 316.9 172.3 316.6 172.7 316.1 173.1 315.8 173.6 315.4 174.0 314.9 174.4 314.3 174.9 313.8 175.3 313.5 175.7 313.1 176.1 312.8 176.6 312.5 177.0 312.2 177.4 311.8 177.9 311.7 178.3 311.3 178.7 311.0 179.1 310.9 179.6 310.7 180.0 310.7 180.4 310.3 180.9 310.1 181.3 309.8 181.7 309.5 182.2 309.4 182.6 309.3 183.0 309.2 183.4 308.9 183.9 308.6 184.3 308.4 184.7 308.3 185.2 308.1 185.6 308.0 186.0 307.8 186.4 307.8 186.9 307.7 187.3 307.4 187.7 307.3 188.2 307.2 188.6 307.1 189.0 306.9 189.4 306.7 189.9 306.6 190.3 306.5 190.7 306.3 191.2 305.9 191.6 305.7 192.0 305.6 192.4 305.5 192.9 305.3 193.3 304.9 193.7 304.8 194.2 304.5 194.6 304.2 195.0 303.7 195.5 303.5 195.9 302.9 196.3 302.4 196.7 301.9 197.2 301.6 197.6 301.3 198.0 300.9 198.5 300.4 198.9 300.0 199.3 299.6 199.7 299.2 200.2 298.8 200.6 298.6 201.0 298.8 201.5 298.9 201.9 299.1 202.3 299.2 202.7 299.3 203.2 299.6 203.6 299.9 204.0 300.1 204.5 299.9 204.9 299.4 205.3 299.1 205.7 298.6 206.2 298.6 206.6 298.2 207.0 297.9 207.5 297.4 207.9 297.2 208.3 297.2 208.8 296.9 209.2 296.9 209.6 296.9 210.0 297.0 210.5 296.9 210.9 297.1 211.3 297.1 211.8 297.5 212.2 297.3 212.6 297.3 213.0 297.1 213.5 296.9 213.9 296.5 214.3 296.2 214.8 296.0 215.2 295.8 215.6 295.6 216.0 295.4 216.5 295.4 216.9 295.3 217.3 294.8 217.8 294.5 218.2 294.2 218.6 294.1 219.0 294.1 219.5 293.8 219.9 293.7 220.3 293.6 220.8 293.6 221.2 293.2 221.6 292.8 222.1 292.4 222.5 292.3 222.9 292.3 223.3 292.3 223.8 292.1 224.2 291.8 224.6 291.7 225.1 291.7 225.5 291.8 225.9 291.7 226.3 291.6 226.8 291.5 227.2 291.6 227.6 291.6 228.1 291.6 228.5 291.4 228.9 291.4 229.3 291.4 229.8 291.5 230.2 291.5 230.6 291.4 231.1 291.4 231.5 291.3 231.9 291.2 232.3 291.1 232.8 291.1 233.2 291.2 233.6 291.2 234.1 291.2 234.5 291.1 234.9 291.1 235.4 291.0 235.8 290.9 236.2 290.7 236.6 290.7 237.1 290.7 237.5 290.6 237.9 290.6 238.4 290.6 238.8 290.6 239.2 290.6 239.6 290.5 240.1 290.7 240.5 290.4 240.9 290.4 241.4 290.3 241.8 290.3 242.2 290.0 242.6 289.9 243.1 289.8 243.5 289.9 243.9 289.9 244.4 289.7 244.8 289.5 245.2 289.5 245.6 289.4 246.1 289.5 246.5 289.6 246.9 289.6 247.4 289.5 247.8 289.4 248.2 289.2 248.7 289.1 249.1 289.0 249.5 289.0 249.9 288.8 250.4 288.8 250.8 288.7 251.2 288.9 251.7 288.8 252.1 288.9 252.5 288.8 252.9 288.6 253.4 288.5 253.8 288.6 254.2 288.6 254.7 288.6 255.1 288.5 255.5 288.4 255.9 288.2 256.4 288.0 256.8 288.2 257.2 288.0 257.7 288.0 258.1 287.9 258.5 288.1 258.9 288.2 259.4 288.2 259.8 288.1 260.2 288.0 260.7 288.0 261.1 287.9 261.5 287.8 262.0 287.8 262.4 287.8 262.8 287.8 263.2 287.7 263.7 287.6 264.1 287.6 264.5 287.5 265.0 287.5 265.4 287.4 265.8 287.5 266.2 287.6 266.7 287.5 267.1 287.4 267.5 287.4 268.0 287.3 268.4 287.1 268.8 287.1 269.2 287.3 269.7 287.3 270.1 287.3 270.5 287.2 271.0 287.3 271.4 287.5 271.8 287.4 272.2 287.3 272.7 287.0 273.1 287.0 273.5 286.9 274.0 286.9 274.4 287.0 274.8 287.1 275.3 287.0 275.7 287.0 276.1 286.8 276.5 286.8 277.0 286.7 277.4 286.8 277.8 286.8 278.3 287.1 278.7 287.1 279.1 287.1 279.5 286.9 280.0 286.9 280.4 286.8 280.8 286.6 281.3 286.7 281.7 286.6 282.1 286.7 282.5 286.8 283.0 286.7 283.4 286.8 283.8 286.7 284.3 286.9 284.7 286.8 285.1 286.8 285.5 286.8 286.0 286.8 286.4 286.9 286.8 286.9 287.3 286.9 287.7 286.9 288.1 286.8 288.6 286.6 289.0 286.6 289.4 286.7 289.8 286.6 290.3 286.5 290.7 286.4 291.1 286.7 291.6 286.6 292.0 286.7 292.4 286.5 292.8 286.7 293.3 286.8 293.7 286.7 294.1 286.5 294.6 286.5 295.0 286.4 295.4 286.5 295.8 286.4 296.3 286.4 296.7 286.3 297.1 286.2 297.6 286.3 298.0 286.5 298.4 286.3 298.8 286.4 299.3 286.2 299.7 286.3 300.1 286.2 300.6 286.2 301.0 286.3 301.4 286.4 301.9 286.3 302.3 286.1 302.7 286.0 303.1 285.9 303.6 286.2 304.0 286.1 304.4 286.1 304.9 285.9 305.3 286.0 305.7 286.1 306.1 286.2 306.6 286.1 307.0 286.3 307.4 286.4 307.9 286.5 308.3 286.4 308.7 286.1 309.1 286.1 309.6 286.3 310.0 286.3 310.4 286.3 310.9 286.4 311.3 286.6 311.7 286.9 312.1 286.6 312.6 286.6 313.0 286.4 313.4 286.5 313.9 286.6 314.3 286.6 314.7 286.7 315.2 286.6 315.6 286.8 316.0 286.8 316.4 287.0 316.9 287.0 317.3 287.0 317.7 287.0 318.2 287.0 318.6 286.8 319.0 286.8 319.4 286.9 319.9 287.1 320.3 287.1 320.7 287.0 321.2 286.8 321.6 286.7 322.0 286.4 322.4 286.4 322.9 286.4 323.3 286.4 323.7 286.4 324.2 286.5 324.6 286.7 325.0 286.7 325.5 286.7 325.9 286.7 326.3 286.7 326.7 286.8 327.2 286.9 327.6 287.1 328.0 286.9 328.5 286.8 328.9 286.7 329.3 286.7 329.7 286.8 330.2 286.8 330.6 286.7 331.0 286.6 331.5 286.7 331.9 286.6 332.3 286.8 332.7 286.7 333.2 286.5 333.6 286.3 334.0 286.1 334.5 286.4 334.9 286.4 335.3 286.5 335.7 286.4 336.2 286.4 336.6 286.2 337.0 286.1 337.5 286.1 337.9 286.1 338.3 286.2 338.8 286.1 339.2 286.1 339.6 286.1 340.0 286.3 340.5 286.3 340.9 286.5 341.3 286.5 341.8 286.6 342.2 286.7 342.6 287.0 343.0 287.1 343.5 287.4 343.9 287.3 344.3 287.5 344.8 287.4 345.2 287.3 345.6 287.5 346.0 287.6 346.5 287.6 346.9 287.3 347.3 287.1 347.8 287.2 348.2 287.4 348.6 287.4 349.0 287.3 349.5 287.2 349.9 287.2 350.3 287.2 350.8 287.1 351.2 286.8 351.6 286.8 352.1 286.9 352.5 286.9 352.9 287.1 353.3 286.8 353.8 286.8 354.2 286.6 354.6 286.8 355.1 286.9 355.5 287.0 355.9 287.1 356.3 287.1 356.8 287.2 357.2 287.1 357.6 287.1 358.1 287.0 358.5 287.1 358.9 287.1 359.3 287.2 359.8 287.2 360.2 287.2 360.6 286.9 361.1 287.0 361.5 287.3 361.9 287.6 362.3 287.8 362.8 287.8 363.2 288.1 363.6 288.3 364.1 288.6 364.5 288.7 364.9 288.6 365.4 288.8 365.8 288.9 366.2 289.2 366.6 289.4 367.1 289.6 367.5 289.6 367.9 289.6 368.4 289.6 368.8 289.6 369.2 289.7 369.6 289.8 370.1 289.9 370.5 289.8 370.9 290.0 371.4 290.0 371.8 290.2 372.2 290.2 372.6 290.4 373.1 290.4 373.5 290.5 373.9 290.7 374.4 290.9 374.8 291.1 375.2 291.1 375.6 290.9 376.1 290.8 376.5 290.8 376.9 290.9 377.4 291.0 377.8 290.9 378.2 290.9 378.7 290.8 379.1 290.9 379.5 291.0 379.9 291.1 380.4 291.1 380.8 290.9 381.2 290.9 381.7 290.7 382.1 290.7 382.5 290.4 382.9 290.6 383.4 290.6 383.8 290.8 384.2 290.8 384.7 291.2 385.1 291.3 385.5 291.6 385.9 291.4 386.4 291.5 386.8 291.5 387.2 291.6 387.7 291.5 388.1 291.6 388.5 291.4 388.9 291.6 389.4 291.4 389.8 291.8 390.2 292.0 390.7 292.3 391.1 292.2 391.5 292.3 392.0 292.4 392.4 292.5 392.8 292.3 393.2 292.1 393.7 292.1 394.1 292.3 394.5 292.3 395.0 292.3 395.4 292.3 395.8 292.2 396.2 292.2 396.7 292.2 397.1 292.3 397.5 292.3 398.0 292.3 398.4 292.3 398.8 292.1 399.2 292.1 399.7 292.2 400.1 292.5 400.5 292.8 401.0 292.8 401.4 292.9 401.8 293.1 402.2 293.2 402.7 293.4 403.1 293.6 403.5 293.7 404.0 293.8 404.4 294.0 404.8 294.3 405.3 294.8 405.7 295.2 406.1 295.0 406.5 294.7 407.0 294.5 407.4 294.8 407.8 294.9 408.3 294.8 408.7 294.7 409.1 294.5 409.5 294.3 410.0 294.2 410.4 294.0 410.8 294.0 411.3 294.1 411.7 294.0 412.1 294.0 412.5 294.3 413.0 294.7 413.4 294.7 413.8 294.8 414.3 294.8 414.7 295.2 415.1 295.4 415.5 295.6 416.0 296.0 416.4 296.4 416.8 296.9 417.3 297.0 417.7 297.3 418.1 297.4 418.6 297.5 419.0 297.5 419.4 297.6 419.8 297.8 420.3 297.9 420.7 298.1 421.1 298.0 421.6 298.1 422.0 298.0 422.4 298.0 422.8 298.1 423.3 298.3 423.7 298.5 424.1 298.5 424.6 298.4 425.0 298.7 425.4 298.8 425.8 299.1 426.3 299.0 426.7 299.3 427.1 299.4 427.6 299.9 428.0 300.1 428.4 300.2 428.8 300.0 429.3 300.1 429.7 300.3 430.1 300.6 430.6 300.7 431.0 301.0 431.4 301.2 431.9 301.3 432.3 301.3 432.7 301.3 433.1 301.3 433.6 301.6 434.0 301.6 434.4 301.7 434.9 301.8 435.3 301.8 435.7 301.9 436.1 301.9 436.6 302.1 437.0 302.2 437.4 302.3 437.9 302.4 438.3 302.6 438.7 302.7 439.1 302.9 439.6 302.8 440.0 302.9 440.4 303.2 440.9 303.7 441.3 303.9 441.7 304.0 442.1 304.2 442.6 304.5 443.0 304.6 443.4 304.8 443.9 305.0 444.3 305.3 444.7 305.3 445.2 305.5 445.6 305.8 446.0 305.9 446.4 306.1 446.9 306.2 447.3 306.4 447.7 306.8 448.2 307.0 448.6 307.3 449.0 307.4 449.4 307.7 449.9 307.8 450.3 308.1 450.7 308.3 451.2 308.4 451.6 308.6 452.0 308.8 452.4 309.4 452.9 309.8 453.3 310.0 453.7 310.3 454.2 310.7 454.6 311.0 455.0 311.2 455.4 311.4 455.9 311.9 456.3 312.2 456.7 312.6 457.2 312.9 457.6 313.4 458.0 313.8 458.5 314.2 458.9 314.3 459.3 314.8 459.7 315.1 460.2 315.6 460.6 315.7 461.0 316.2 461.5 316.5 461.9 317.1 462.3 317.3 462.7 317.8 463.2 318.1 463.6 318.6 464.0 318.8 464.5 319.2 464.9 319.6 465.3 320.0 465.7 320.6 466.2 320.8 466.6 321.3 467.0 321.5 467.5 321.9 467.9 322.1 468.3 322.5 468.7 322.9 469.2 323.4 469.6 323.7 470.0 324.1 470.5 324.6 470.9 325.0 471.3 325.5 471.8 326.0 472.2 326.6 472.6 327.2 473.0 327.7 473.5 327.9 473.9 328.4 474.3 328.8 474.8 329.5 475.2 329.9 475.6 330.5 476.0 330.9 476.5 331.5 476.9 331.9 477.3 332.4 477.8 333.1 478.2 333.7 478.6 334.4 479.0 334.8 479.5 335.5 479.9 336.0 480.3 336.8 480.8 337.3 481.2 338.0 481.6 338.4 482.0 339.1 482.5 339.8 482.9 340.4 483.3 341.0 483.8 341.5 484.2 342.1 484.6 342.9 485.1 343.4 485.5 344.1 485.9 344.8 486.3 345.5 486.8 346.3 487.2 346.9 487.6 347.7 488.1 348.6 488.5 349.4 488.9 350.1 489.3 351.5 489.8 353.3 490.2 356.6" fill="none" stroke="#ff0000" stroke-width="2.50" stroke-linejoin="round"/>
<path d="M76.0 356.6L76.3 356.6 76.7 356.6 77.0 356.6 77.4 356.6 77.7 356.6 78.1 356.6 78.4 356.6 78.8 356.6 79.1 356.6 79.5 356.6 79.8 356.6 80.2 356.6 80.5 356.6 80.9 356.6 81.2 356.6 81.6 356.6 81.9 356.6 82.3 356.6 82.6 356.6 83.0 356.6 83.3 356.6 83.7 356.6 84.0 356.6 84.4 356.6 84.7 356.6 85.1 356.6 85.4 356.6 85.8 356.6 86.1 356.6 86.5 356.6 86.8 356.6 87.2 356.6 87.5 356.6 87.8 356.6 88.2 356.6 88.5 356.6 88.9 356.6 89.2 356.6 89.6 356.6 89.9 356.6 90.3 356.6 90.6 356.6 91.0 356.6 91.3 356.6 91.7 356.6 92.0 356.6 92.4 356.6 92.7 356.6 93.1 356.6 93.4 356.6 93.8 356.6 94.1 356.6 94.5 356.6 94.8 356.6 95.2 356.6 95.5 356.6 95.9 356.6 96.2 356.6 96.6 356.6 96.9 356.6 97.3 356.6 97.6 356.6 98.0 356.6 98.3 356.6 98.7 356.6 99.0 356.6 99.3 356.6 99.7 356.6 100.0 356.6 100.4 356.6 100.7 356.6 101.1 356.6 101.4 356.6 101.8 356.6 102.1 356.6 102.5 356.6 102.8 356.6 103.2 356.6 103.5 356.6 103.9 356.6 104.2 356.6 104.6 356.6 104.9 356.6 105.3 356.6 105.6 356.6 106.0 356.6 106.3 356.6 106.7 356.6 107.0 356.6 107.4 356.6 107.7 356.6 108.1 356.6 108.4 356.6 108.8 356.6 109.1 356.6 109.5 356.6 109.8 356.6 110.2 356.6 110.5 356.6 110.9 356.6 111.2 356.6 111.5 356.6 111.9 356.6 112.2 356.6 112.6 356.6 112.9 356.6 113.3 356.6 113.6 356.6 114.0 356.6 114.3 356.6 114.7 356.6 115.0 356.6 115.4 356.6 115.7 356.6 116.1 356.6 116.4 356.6 116.8 356.6 117.1 356.6 117.5 356.6 117.8 356.6 118.2 356.6 118.5 356.6 118.9 356.6 119.2 356.6 119.6 356.6 119.9 356.6 120.3 356.6 120.6 356.6 121.0 356.6 121.3 356.6 121.7 356.6 122.0 356.6 122.4 356.6 122.7 356.6 123.0 356.6 123.4 356.6 123.7 356.6 124.1 356.6 124.4 356.6 124.8 356.6 125.1 356.6 125.5 356.6 125.8 356.6 126.2 356.6 126.5 356.6 126.9 356.6 127.2 356.6 127.6 356.6 127.9 356.6 128.3 356.6 128.6 356.6 129.0 356.6 129.3 356.6 129.7 356.6 130.0 356.6 130.4 356.6 130.7 356.6 131.1 356.6 131.4 356.6 131.8 356.6 132.1 356.6 132.5 356.6 132.8 356.6 133.2 356.6 133.5 356.6 133.9 356.6 134.2 356.6 134.5 356.6 134.9 356.6 135.2 356.6 135.6 356.6 135.9 356.6 136.3 356.6 136.6 356.6 137.0 356.6 137.3 356.6 137.7 356.6 138.0 356.6 138.4 356.6 138.7 356.6 139.1 356.6 139.4 356.6 139.8 356.6 140.1 356.6 140.5 356.6 140.8 356.6 141.2 356.6 141.5 356.6 141.9 356.6 142.2 356.6 142.6 356.6 142.9 356.6 143.3 356.6 143.6 356.6 144.0 356.6 144.3 356.6 144.7 356.6 145.0 356.6 145.4 356.6 145.7 356.6 146.0 356.6 146.4 356.6 146.7 356.6 147.1 356.6 147.4 356.6 147.8 356.6 148.1 356.6 148.5 356.6 148.8 356.6 149.2 356.6 149.5 356.6 149.9 356.6 150.2 356.6 150.6 356.6 150.9 356.6 151.3 356.6 151.6 356.6 152.0 356.6 152.3 356.6 152.7 356.6 153.0 356.6 153.4 356.6 153.7 356.6 154.1 356.6 154.4 356.6 154.8 356.6 155.1 356.6 155.5 356.6 155.8 356.6 156.2 356.6 156.5 356.6 156.9 356.6 157.2 356.6 157.6 356.6 157.9 356.6 158.2 356.6 158.6 356.6 158.9 356.6 159.3 356.6 159.6 356.6 160.0 356.6 160.3 356.6 160.7 356.6 161.0 356.6 161.4 356.5 161.7 356.5 162.1 356.4 162.4 356.4 162.8 356.3 163.1 356.3 163.5 356.2 163.8 356.2 164.2 356.1 164.5 356.1 164.9 356.0 165.2 355.9 165.6 355.8 165.9 355.7 166.3 355.7 166.6 355.6 167.0 355.5 167.3 355.4 167.7 355.3 168.0 355.2 168.4 355.2 168.7 355.1 169.1 355.0 169.4 354.8 169.7 354.8 170.1 354.7 170.4 354.6 170.8 354.5 171.1 354.4 171.5 354.3 171.8 354.3 172.2 354.2 172.5 353.9 172.9 353.9 173.2 353.6 173.6 353.5 173.9 353.4 174.3 353.4 174.6 353.3 175.0 353.3 175.3 353.1 175.7 352.9 176.0 352.9 176.4 352.7 176.7 352.6 177.1 352.5 177.4 352.0 177.8 352.0 178.1 351.9 178.5 351.9 178.8 351.8 179.2 351.6 179.5 351.6 179.9 351.2 180.2 350.9 180.6 350.8 180.9 350.6 181.2 350.4 181.6 350.6 181.9 350.2 182.3 350.0 182.6 349.8 183.0 349.7 183.3 350.0 183.7 349.5 184.0 349.5 184.4 350.0 184.7 349.5 185.1 349.4 185.4 349.2 185.8 349.2 186.1 349.1 186.5 348.9 186.8 349.1 187.2 349.3 187.5 348.7 187.9 348.6 188.2 348.7 188.6 348.5 188.9 348.4 189.3 348.4 189.6 348.0 190.0 347.9 190.3 347.7 190.7 347.3 191.0 347.1 191.4 347.4 191.7 347.4 192.1 346.7 192.4 346.2 192.7 346.3 193.1 346.1 193.4 346.0 193.8 345.5 194.1 344.7 194.5 345.2 194.8 345.0 195.2 344.4 195.5 345.0 195.9 344.1 196.2 343.1 196.6 342.5 196.9 341.4 197.3 340.6 197.6 339.7 198.0 339.5 198.3 338.7 198.7 337.6 199.0 337.2 199.4 336.0 199.7 334.2 200.1 333.0 200.4 334.6 200.8 334.7 201.1 334.7 201.5 337.6 201.8 336.7 202.2 337.9 202.5 340.2 202.9 340.2 203.2 340.8 203.6 339.5 203.9 338.3 204.3 337.1 204.6 337.4 204.9 336.1 205.3 336.4 205.6 335.2 206.0 334.9 206.3 334.0 206.7 334.9 207.0 334.1 207.4 332.2 207.7 332.8 208.1 330.7 208.4 328.9 208.8 326.6 209.1 324.1 209.5 323.9 209.8 327.0 210.2 329.2 210.5 330.8 210.9 329.5 211.2 328.5 211.6 327.4 211.9 325.9 212.3 323.7 212.6 321.5 213.0 319.9 213.3 316.9 213.7 318.4 214.0 320.9 214.4 322.9 214.7 322.7 215.1 320.4 215.4 318.8 215.8 317.5 216.1 316.6 216.4 313.0 216.8 313.7 217.1 313.4 217.5 313.4 217.8 313.9 218.2 310.3 218.5 310.2 218.9 310.6 219.2 307.9 219.6 307.9 219.9 307.8 220.3 307.0 220.6 304.9 221.0 307.3 221.3 304.9 221.7 305.1 222.0 302.0 222.4 302.9 222.7 303.2 223.1 302.6 223.4 302.5 223.8 302.5 224.1 300.0 224.5 298.9 224.8 302.7 225.2 297.3 225.5 296.9 225.9 300.7 226.2 302.4 226.6 306.0 226.9 304.2 227.3 307.9 227.6 309.9 227.9 301.9 228.3 300.0 228.6 299.6 229.0 301.1 229.3 301.8 229.7 305.1 230.0 305.9 230.4 305.5 230.7 304.8 231.1 300.5 231.4 302.7 231.8 299.8 232.1 301.0 232.5 302.2 232.8 298.2 233.2 300.5 233.5 299.3 233.9 301.6 234.2 303.6 234.6 303.7 234.9 299.2 235.3 298.1 235.6 297.4 236.0 295.5 236.3 292.4 236.7 296.3 237.0 293.0 237.4 288.9 237.7 286.2 238.1 290.8 238.4 296.5 238.8 298.0 239.1 298.2 239.4 301.6 239.8 300.4 240.1 302.0 240.5 300.6 240.8 300.4 241.2 297.4 241.5 297.1 241.9 297.3 242.2 299.0 242.6 295.8 242.9 296.5 243.3 297.0 243.6 297.3 244.0 292.6 244.3 294.2 244.7 298.1 245.0 296.0 245.4 294.0 245.7 294.3 246.1 294.8 246.4 292.7 246.8 294.1 247.1 292.9 247.5 290.1 247.8 291.4 248.2 289.8 248.5 290.6 248.9 290.1 249.2 288.2 249.6 289.5 249.9 288.5 250.3 287.4 250.6 286.5 250.9 284.6 251.3 285.4 251.6 285.3 252.0 285.1 252.3 279.0 252.7 281.4 253.0 279.7 253.4 278.7 253.7 276.3 254.1 281.0 254.4 277.8 254.8 276.3 255.1 276.9 255.5 274.1 255.8 276.3 256.2 274.9 256.5 273.5 256.9 272.8 257.2 275.3 257.6 277.5 257.9 276.1 258.3 276.8 258.6 277.0 259.0 279.6 259.3 276.9 259.7 275.1 260.0 274.0 260.4 277.5 260.7 277.1 261.1 273.2 261.4 275.1 261.8 275.2 262.1 273.3 262.5 269.7 262.8 270.4 263.1 269.4 263.5 274.1 263.8 271.1 264.2 269.3 264.5 273.3 264.9 270.9 265.2 274.1 265.6 276.5 265.9 274.2 266.3 274.8 266.6 274.4 267.0 277.0 267.3 280.3 267.7 279.6 268.0 279.5 268.4 275.8 268.7 280.9 269.1 274.9 269.4 275.3 269.8 273.4 270.1 277.0 270.5 276.1 270.8 279.4 271.2 275.9 271.5 275.0 271.9 269.6 272.2 269.7 272.6 271.9 272.9 269.5 273.3 270.0 273.6 266.7 274.0 266.4 274.3 266.2 274.6 265.5 275.0 269.4 275.3 269.5 275.7 267.8 276.0 269.2 276.4 269.8 276.7 269.5 277.1 269.9 277.4 270.0 277.8 265.8 278.1 267.3 278.5 266.6 278.8 266.0 279.2 263.9 279.5 263.6 279.9 263.9 280.2 263.4 280.6 263.7 280.9 260.4 281.3 264.6 281.6 262.5 282.0 262.1 282.3 264.0 282.7 263.2 283.0 262.9 283.4 263.1 283.7 262.8 284.1 261.1 284.4 263.1 284.8 263.0 285.1 262.3 285.5 261.1 285.8 261.6 286.1 261.1 286.5 264.0 286.8 262.5 287.2 264.2 287.5 263.1 287.9 263.3 288.2 264.9 288.6 262.6 288.9 264.1 289.3 265.4 289.6 264.9 290.0 266.0 290.3 267.0 290.7 266.5 291.0 265.1 291.4 266.5 291.7 265.1 292.1 264.5 292.4 265.6 292.8 266.8 293.1 267.8 293.5 267.1 293.8 266.2 294.2 267.8 294.5 266.2 294.9 262.3 295.2 261.8 295.6 261.6 295.9 264.1 296.3 261.5 296.6 260.8 297.0 258.6 297.3 259.5 297.6 257.8 298.0 258.9 298.3 259.8 298.7 260.7 299.0 260.1 299.4 261.8 299.7 261.9 300.1 262.9 300.4 264.8 300.8 265.9 301.1 263.2 301.5 262.0 301.8 259.8 302.2 261.8 302.5 259.0 302.9 260.1 303.2 259.0 303.6 255.8 303.9 256.4 304.3 258.6 304.6 258.9 305.0 258.0 305.3 259.6 305.7 257.6 306.0 259.8 306.4 259.5 306.7 259.9 307.1 260.4 307.4 261.4 307.8 263.2 308.1 262.7 308.5 263.1 308.8 261.6 309.2 260.8 309.5 261.5 309.8 260.6 310.2 259.0 310.5 259.3 310.9 258.0 311.2 259.2 311.6 258.6 311.9 256.8 312.3 259.1 312.6 258.9 313.0 258.6 313.3 259.9 313.7 260.4 314.0 260.9 314.4 262.5 314.7 261.3 315.1 261.8 315.4 265.1 315.8 264.3 316.1 262.4 316.5 266.3 316.8 267.5 317.2 268.0 317.5 268.3 317.9 270.8 318.2 271.6 318.6 270.9 318.9 270.2 319.3 267.2 319.6 269.7 320.0 270.5 320.3 266.6 320.7 265.4 321.0 264.5 321.3 265.1 321.7 262.7 322.0 264.1 322.4 262.0 322.7 263.0 323.1 263.4 323.4 261.2 323.8 259.4 324.1 259.6 324.5 259.6 324.8 258.6 325.2 259.0 325.5 257.5 325.9 255.3 326.2 257.8 326.6 258.3 326.9 258.1 327.3 257.5 327.6 258.5 328.0 259.5 328.3 260.2 328.7 260.9 329.0 263.5 329.4 262.9 329.7 262.4 330.1 262.8 330.4 261.3 330.8 262.5 331.1 261.7 331.5 261.5 331.8 260.8 332.2 258.5 332.5 261.4 332.8 258.3 333.2 257.8 333.5 257.0 333.9 257.5 334.2 254.2 334.6 257.0 334.9 256.5 335.3 257.2 335.6 256.6 336.0 255.9 336.3 256.2 336.7 254.7 337.0 254.2 337.4 252.9 337.7 252.2 338.1 254.0 338.4 251.3 338.8 255.0 339.1 255.5 339.5 253.0 339.8 253.9 340.2 256.2 340.5 256.6 340.9 256.0 341.2 258.6 341.6 258.5 341.9 257.4 342.3 261.1 342.6 263.2 343.0 262.5 343.3 264.9 343.7 264.1 344.0 269.4 344.3 272.9 344.7 270.3 345.0 270.5 345.4 272.8 345.7 275.0 346.1 275.0 346.4 278.9 346.8 276.9 347.1 277.2 347.5 272.6 347.8 274.1 348.2 274.4 348.5 273.4 348.9 266.7 349.2 270.2 349.6 267.0 349.9 266.1 350.3 264.7 350.6 262.8 351.0 261.5 351.3 260.3 351.7 259.1 352.0 255.9 352.4 258.5 352.7 259.2 353.1 261.3 353.4 265.4 353.8 266.5 354.1 268.7 354.5 271.8 354.8 268.5 355.2 268.8 355.5 268.8 355.9 267.8 356.2 266.2 356.5 263.5 356.9 265.2 357.2 266.1 357.6 266.8 357.9 264.4 358.3 264.9 358.6 264.8 359.0 267.3 359.3 267.1 359.7 268.5 360.0 267.3 360.4 269.1 360.7 267.4 361.1 268.7 361.4 267.2 361.8 273.3 362.1 272.0 362.5 275.3 362.8 275.9 363.2 275.6 363.5 276.8 363.9 279.7 364.2 278.6 364.6 280.2 364.9 281.1 365.3 282.0 365.6 284.1 366.0 288.0 366.3 286.4 366.7 289.0 367.0 287.6 367.4 287.3 367.7 287.3 368.0 286.3 368.4 290.3 368.7 290.0 369.1 288.8 369.4 289.1 369.8 291.2 370.1 290.4 370.5 289.2 370.8 290.0 371.2 288.9 371.5 292.3 371.9 294.7 372.2 291.2 372.6 293.7 372.9 295.8 373.3 291.7 373.6 292.2 374.0 292.4 374.3 294.5 374.7 293.3 375.0 291.8 375.4 290.7 375.7 289.0 376.1 290.6 376.4 291.7 376.8 291.5 377.1 290.0 377.5 290.3 377.8 285.8 378.2 288.8 378.5 290.9 378.9 287.7 379.2 286.0 379.5 288.2 379.9 288.4 380.2 284.9 380.6 283.2 380.9 289.8 381.3 292.4 381.6 290.7 382.0 297.1 382.3 291.7 382.7 296.7 383.0 298.3 383.4 298.9 383.7 295.5 384.1 297.8 384.4 293.4 384.8 293.4 385.1 292.6 385.5 292.8 385.8 290.7 386.2 291.6 386.5 289.2 386.9 292.8 387.2 289.6 387.6 287.4 387.9 288.6 388.3 287.4 388.6 290.2 389.0 288.7 389.3 291.6 389.7 289.9 390.0 292.6 390.4 294.9 390.7 296.0 391.0 299.5 391.4 300.2 391.7 298.8 392.1 299.9 392.4 303.9 392.8 302.8 393.1 303.6 393.5 304.6 393.8 306.2 394.2 307.0 394.5 310.4 394.9 312.9 395.2 311.5 395.6 314.7 395.9 312.9 396.3 312.5 396.6 312.0 397.0 310.1 397.3 311.3 397.7 310.4 398.0 310.2 398.4 308.0 398.7 308.3 399.1 309.7 399.4 309.8 399.8 308.7 400.1 308.9 400.5 307.9 400.8 306.2 401.2 307.5 401.5 308.5 401.9 310.2 402.2 309.2 402.6 310.4 402.9 309.2 403.2 310.2 403.6 310.5 403.9 309.6 404.3 310.7 404.6 310.6 405.0 313.2 405.3 313.1 405.7 314.8 406.0 315.1 406.4 317.1 406.7 319.6 407.1 320.5 407.4 324.0 407.8 323.7 408.1 322.8 408.5 323.0 408.8 322.2 409.2 321.6 409.5 321.0 409.9 320.4 410.2 320.6 410.6 318.1 410.9 317.9 411.3 318.3 411.6 317.7 412.0 317.0 412.3 317.4 412.7 319.3 413.0 320.4 413.4 321.0 413.7 321.8 414.1 323.6 414.4 323.0 414.7 324.2 415.1 327.5 415.4 327.5 415.8 325.4 416.1 325.1 416.5 326.1 416.8 327.7 417.2 326.8 417.5 326.5 417.9 328.1 418.2 329.1 418.6 327.5 418.9 328.5 419.3 327.8 419.6 328.0 420.0 328.9 420.3 328.4 420.7 328.1 421.0 329.3 421.4 330.5 421.7 331.3 422.1 330.6 422.4 330.3 422.8 331.7 423.1 334.0 423.5 332.7 423.8 332.2 424.2 333.0 424.5 333.7 424.9 333.9 425.2 334.0 425.6 333.2 425.9 333.9 426.2 335.0 426.6 336.1 426.9 336.5 427.3 336.4 427.6 336.2 428.0 336.6 428.3 336.8 428.7 336.6 429.0 337.3 429.4 337.5 429.7 338.0 430.1 337.1 430.4 337.9 430.8 338.4 431.1 338.4 431.5 339.0 431.8 338.7 432.2 339.3 432.5 338.9 432.9 338.9 433.2 339.4 433.6 339.5 433.9 340.1 434.3 339.8 434.6 339.4 435.0 339.4 435.3 340.0 435.7 340.6 436.0 340.1 436.4 340.6 436.7 340.5 437.1 340.8 437.4 341.1 437.7 341.7 438.1 340.9 438.4 341.2 438.8 342.6 439.1 342.8 439.5 342.3 439.8 342.5 440.2 342.6 440.5 342.6 440.9 343.1 441.2 343.0 441.6 343.7 441.9 343.6 442.3 343.7 442.6 343.7 443.0 343.5 443.3 344.0 443.7 344.0 444.0 344.2 444.4 344.9 444.7 345.3 445.1 346.0 445.4 346.0 445.8 345.9 446.1 346.8 446.5 346.4 446.8 346.3 447.2 346.9 447.5 347.0 447.9 347.0 448.2 347.4 448.6 347.6 448.9 347.9 449.2 348.1 449.6 348.6 449.9 348.5 450.3 348.7 450.6 348.6 451.0 348.6 451.3 348.7 451.7 349.2 452.0 349.8 452.4 350.0 452.7 349.6 453.1 349.8 453.4 350.1 453.8 350.2 454.1 350.4 454.5 350.6 454.8 351.1 455.2 351.1 455.5 351.3 455.9 351.3 456.2 351.6 456.6 351.4 456.9 351.5 457.3 351.8 457.6 351.8 458.0 352.1 458.3 352.2 458.7 352.4 459.0 352.5 459.4 352.6 459.7 352.7 460.1 353.0 460.4 353.1 460.8 353.1 461.1 353.4 461.4 353.5 461.8 353.6 462.1 353.7 462.5 353.6 462.8 353.7 463.2 353.9 463.5 354.0 463.9 354.1 464.2 354.1 464.6 354.3 464.9 354.3 465.3 354.5 465.6 354.6 466.0 354.6 466.3 354.7 466.7 354.8 467.0 354.9 467.4 355.0 467.7 355.1 468.1 355.1 468.4 355.2 468.8 355.3 469.1 355.3 469.5 355.4 469.8 355.4 470.2 355.4 470.5 355.5 470.9 355.6 471.2 355.6 471.6 355.7 471.9 355.7 472.3 355.7 472.6 355.9 472.9 355.9 473.3 355.9 473.6 356.0 474.0 356.0 474.3 356.0 474.7 356.1 475.0 356.1 475.4 356.1 475.7 356.1 476.1 356.2 476.4 356.2 476.8 356.2 477.1 356.3 477.5 356.3 477.8 356.4 478.2 356.4 478.5 356.4 478.9 356.5 479.2 356.5 479.6 356.5 479.9 356.5 480.3 356.5 480.6 356.5 481.0 356.5 481.3 356.5 481.7 356.5 482.0 356.5 482.4 356.5 482.7 356.5 483.1 356.5 483.4 356.5 483.8 356.5 484.1 356.5 484.4 356.5 484.8 356.5 485.1 356.5 485.5 356.5 485.8 356.5 486.2 356.5 486.5 356.5 486.9 356.5 487.2 356.5 487.6 356.5 487.9 356.5 488.3 356.5 488.6 356.5 489.0 356.5 489.3 356.5 489.7 356.5 490.0 356.5 490.4 356.5 490.7 356.5 491.1 356.5 491.4 356.5 491.8 356.5 492.1 356.5 492.5 356.5 492.8 356.5 493.2 356.5 493.5 356.5 493.9 356.5 494.2 356.5 494.6 356.5 494.9 356.5 495.3 356.5 495.6 356.5 495.9 356.5 496.3 356.5 496.6 356.5 497.0 356.5 497.3 356.5 497.7 356.5 498.0 356.5 498.4 356.5 498.7 356.5 499.1 356.5 499.4 356.5 499.8 356.5 500.1 356.5 500.5 356.5 500.8 356.5 501.2 356.5 501.5 356.5 501.9 356.5 502.2 356.5 502.6 356.5 502.9 356.5 503.3 356.5 503.6 356.5 504.0 356.5 504.3 356.5 504.7 356.5 505.0 356.5 505.4 356.5 505.7 356.5 506.1 356.5 506.4 356.5 506.8 356.5 507.1 356.5 507.5 356.5 507.8 356.5 508.1 356.5 508.5 356.5 508.8 356.5 509.2 356.5 509.5 356.5 509.9 356.5 510.2 356.5 510.6 356.5 510.9 356.5 511.3 356.5 511.6 356.5 512.0 356.5 512.3 356.5 512.7 356.5 513.0 356.5 513.4 356.5 513.7 356.5 514.1 356.5 514.4 356.5 514.8 356.5 515.1 356.5 515.5 356.5 515.8 356.5 516.2 356.5 516.5 356.5 516.9 356.5 517.2 356.5 517.6 356.5 517.9 356.5 518.3 356.5 518.6 356.5 519.0 356.5 519.3 356.5 519.6 356.5 520.0 356.5 520.3 356.5 520.7 356.5 521.0 356.5 521.4 356.5 521.7 356.5 522.1 356.5 522.4 356.5 522.8 356.5 523.1 356.5 523.5 356.5 523.8 356.5 524.2 356.5 524.5 356.5 524.9 356.5 525.2 356.5 525.6 356.5 525.9 356.5 526.3 356.5 526.6 356.5 527.0 356.5 527.3 356.5 527.7 356.5 528.0 356.5 528.4 356.5 528.7 356.5 529.1 356.5 529.4 356.5 529.8 356.5 530.1 356.5 530.5 356.5 530.8 356.5 531.1 356.5 531.5 356.5 531.8 356.5 532.2 356.5 532.5 356.5 532.9 356.5 533.2 356.5 533.6 356.5 533.9 356.5 534.3 356.5 534.6 356.5 535.0 356.5 535.3 356.5 535.7 356.5 536.0 356.5 536.4 356.5 536.7 356.5 537.1 356.5 537.4 356.5 537.8 356.5 538.1 356.5 538.5 356.5 538.8 356.5 539.2 356.5 539.5 356.5 539.9 356.5 540.2 356.5 540.6 356.5 540.9 356.5 541.3 356.5 541.6 356.5 542.0 356.5 542.3 356.5 542.6 356.5 543.0 356.5 543.3 356.5 543.7 356.5 544.0 356.5 544.4 356.5 544.7 356.5 545.1 356.5 545.4 356.5 545.8 356.5 546.1 356.5 546.5 356.5 546.8 356.5 547.2 356.5 547.5 356.5 547.9 356.5 548.2 356.5 548.6 356.5 548.9 356.5 549.3 356.5 549.6 356.5 550.0 356.5 550.3 356.5 550.7 356.5 551.0 356.5 551.4 356.5 551.7 356.5 552.1 356.5 552.4 356.5 552.8 356.5 553.1 356.5 553.5 356.5 553.8 356.5 554.2 356.5 554.5 356.5 554.8 356.5 555.2 356.5 555.5 356.5 555.9 356.5 556.2 356.5 556.6 356.5 556.9 356.5 557.3 356.5 557.6 356.5 558.0 356.5 558.3 356.5 558.7 356.5 559.0 356.5 559.4 356.5 559.7 356.5 560.1 356.5 560.4 356.5 560.8 356.5 561.1 356.5 561.5 356.5 561.8 356.5 562.2 356.5 562.5 356.5 562.9 356.5 563.2 356.5 563.6 356.5 563.9 356.5 564.3 356.5 564.6 356.5 565.0 356.5 565.3 356.5 565.7 356.5 566.0 356.5 566.3 356.5 566.7 356.5 567.0 356.5 567.4 356.5 567.7 356.5 568.1 356.5 568.4 356.5 568.8 356.5 569.1 356.5 569.5 356.5 569.8 356.5 570.2 356.5 570.5 356.5 570.9 356.5 571.2 356.5 571.6 356.5 571.9 356.5 572.3 356.5 572.6 356.5 573.0 356.5 573.3 356.5 573.7 356.5 574.0 356.5 574.4 356.5 574.7 356.5 575.1 356.5 575.4 356.5 575.8 356.5 576.1 356.5 576.5 356.5 576.8 356.5 577.2 356.5 577.5 356.5" fill="none" stroke="#00ff00" stroke-width="2.40" stroke-linejoin="round"/>
</g>
<path d="M98.5 357.0V351.5M98.5 238.5V244.0M140.5 357.0V351.5M140.5 238.5V244.0M181.5 357.0V351.5M181.5 238.5V244.0M223.5 357.0V351.5M223.5 238.5V244.0M265.5 357.0V351.5M265.5 238.5V244.0M306.5 357.0V351.5M306.5 238.5V244.0M348.5 357.0V351.5M348.5 238.5V244.0M390.5 357.0V351.5M390.5 238.5V244.0M431.5 357.0V351.5M431.5 238.5V244.0M473.5 357.0V351.5M473.5 238.5V244.0M515.5 357.0V351.5M515.5 238.5V244.0M556.5 357.0V351.5M556.5 238.5V244.0M77.5 253.5h6.0M577.5 253.5h-6.0M77.5 283.5h6.0M577.5 283.5h-6.0M77.5 312.5h6.0M577.5 312.5h-6.0M77.5 342.5h6.0M577.5 342.5h-6.0" stroke="#000" stroke-width="1" fill="none"/>
<path d="M77.5 238.5H577.5V357.5H77.5Z" stroke="#000" stroke-width="1.2" fill="none"/>
<text x="72.50" y="364.00" font-size="16.70" text-anchor="end" textLength="9.59" lengthAdjust="spacingAndGlyphs">0</text>
<text x="72.50" y="334.00" font-size="16.70" text-anchor="end" textLength="9.59" lengthAdjust="spacingAndGlyphs">5</text>
<text x="72.50" y="305.00" font-size="16.70" text-anchor="end" textLength="19.17" lengthAdjust="spacingAndGlyphs">10</text>
<text x="72.50" y="275.00" font-size="16.70" text-anchor="end" textLength="19.17" lengthAdjust="spacingAndGlyphs">15</text>
<text x="72.50" y="245.00" font-size="16.70" text-anchor="end" textLength="19.17" lengthAdjust="spacingAndGlyphs">20</text>
<text x="584.00" y="364.00" font-size="16.70" textLength="9.59" lengthAdjust="spacingAndGlyphs">0</text>
<text x="584.00" y="344.17" font-size="16.70" textLength="19.17" lengthAdjust="spacingAndGlyphs">50</text>
<text x="584.00" y="324.33" font-size="16.70" textLength="28.76" lengthAdjust="spacingAndGlyphs">100</text>
<text x="584.00" y="304.50" font-size="16.70" textLength="28.76" lengthAdjust="spacingAndGlyphs">150</text>
<text x="584.00" y="284.67" font-size="16.70" textLength="28.76" lengthAdjust="spacingAndGlyphs">200</text>
<text x="584.00" y="264.83" font-size="16.70" textLength="28.76" lengthAdjust="spacingAndGlyphs">250</text>
<text x="584.00" y="245.00" font-size="16.70" textLength="28.76" lengthAdjust="spacingAndGlyphs">300</text>
<text x="78.50" y="375.50" font-size="16.70" text-anchor="middle" textLength="9.59" lengthAdjust="spacingAndGlyphs">0</text>
<text x="120.17" y="375.50" font-size="16.70" text-anchor="middle" textLength="9.59" lengthAdjust="spacingAndGlyphs">2</text>
<text x="161.83" y="375.50" font-size="16.70" text-anchor="middle" textLength="9.59" lengthAdjust="spacingAndGlyphs">4</text>
<text x="203.50" y="375.50" font-size="16.70" text-anchor="middle" textLength="9.59" lengthAdjust="spacingAndGlyphs">6</text>
<text x="245.17" y="375.50" font-size="16.70" text-anchor="middle" textLength="9.59" lengthAdjust="spacingAndGlyphs">8</text>
<text x="286.83" y="375.50" font-size="16.70" text-anchor="middle" textLength="19.17" lengthAdjust="spacingAndGlyphs">10</text>
<text x="328.50" y="375.50" font-size="16.70" text-anchor="middle" textLength="19.17" lengthAdjust="spacingAndGlyphs">12</text>
<text x="370.17" y="375.50" font-size="16.70" text-anchor="middle" textLength="19.17" lengthAdjust="spacingAndGlyphs">14</text>
<text x="411.83" y="375.50" font-size="16.70" text-anchor="middle" textLength="19.17" lengthAdjust="spacingAndGlyphs">16</text>
<text x="453.50" y="375.50" font-size="16.70" text-anchor="middle" textLength="19.17" lengthAdjust="spacingAndGlyphs">18</text>
<text x="495.17" y="375.50" font-size="16.70" text-anchor="middle" textLength="19.17" lengthAdjust="spacingAndGlyphs">20</text>
<text x="536.83" y="375.50" font-size="16.70" text-anchor="middle" textLength="19.17" lengthAdjust="spacingAndGlyphs">22</text>
<text x="578.50" y="375.50" font-size="16.70" text-anchor="middle" textLength="19.17" lengthAdjust="spacingAndGlyphs">24</text>
<path d="M77.5 446.5H577.5M77.5 476.5H577.5M77.5 506.5H577.5" stroke="#000" stroke-width="1" fill="none"/>
<path d="M119.5 417.5V535.0M161.5 417.5V535.0M202.5 417.5V535.0M244.5 417.5V535.0M286.5 417.5V535.0M327.5 417.5V535.0M369.5 417.5V535.0M411.5 417.5V535.0M452.5 417.5V535.0M494.5 417.5V535.0M536.5 417.5V535.0" stroke="#000" stroke-width="1" fill="none"/>
<clipPath id="c417"><rect x="76.0" y="417.5" width="503.0" height="118.5"/></clipPath>
<g clip-path="url(#c417)">
</g>
<g clip-path="url(#c417)">
<path d="M77.5 525.00H78.0V524.00H78.4V525.00H78.7V524.00H79.1V525.00H80.1V524.00H80.5V523.00H82.5V522.00H82.9V521.00H83.6V522.00H85.0V521.00H87.1V522.00H87.4V521.00H87.8V522.00H88.1V521.00H88.8V522.00H89.5V521.00H90.5V520.00H93.0V519.00H93.7V520.00H95.4V519.00H96.1V520.00H96.4V521.00H96.8V522.00H97.8V521.00H98.2V522.00H98.5V523.00H98.9V522.00H99.9V521.00H100.6V522.00H101.3V523.00H101.6V522.00H102.7V521.00H103.7V522.00H104.8V521.00H105.5V522.00H106.9V521.00H107.6V522.00H108.6V521.00H108.9V520.00H109.6V519.00H110.0V520.00H110.3V521.00H114.2V520.00H114.5V521.00H115.5V522.00H115.9V521.00H116.2V522.00H117.6V521.00H118.0V522.00H118.7V521.00H119.0V522.00H120.1V523.00H120.4V522.00H122.8V521.00H123.2V522.00H124.9V521.00H125.3V522.00H125.6V523.00H126.0V522.00H126.3V523.00H127.0V522.00H132.6V521.00H134.0V522.00H136.0V521.00H136.7V520.00H138.5V521.00H140.2V520.00H140.9V519.00H141.3V520.00H143.7V519.00H144.0V520.00H144.7V519.00H145.1V520.00H145.4V519.00H146.8V518.00H148.6V519.00H152.0V520.00H152.7V519.00H153.4V520.00H154.8V519.00H156.9V518.00H157.6V519.00H157.9V518.00H160.0V517.00H161.1V516.00H161.4V515.00H163.5V514.00H164.5V515.00H164.9V514.00H165.9V513.00H166.3V514.00H167.3V513.00H167.7V512.00H168.4V511.00H169.1V512.00H170.1V513.00H170.4V514.00H171.1V515.00H171.5V516.00H171.8V515.00H172.9V514.00H173.2V515.00H173.6V514.00H175.0V513.00H176.0V512.00H176.4V513.00H176.7V512.00H177.4V511.00H180.5V510.00H181.2V509.00H183.3V510.00H185.0V509.00H185.4V508.00H185.7V507.00H186.8V508.00H187.1V509.00H187.5V508.00H188.2V507.00H188.5V506.00H190.9V507.00H191.3V506.00H191.6V505.00H192.3V503.00H193.0V502.00H194.1V501.00H194.8V500.00H195.5V499.00H196.2V498.00H196.5V497.00H196.9V496.00H197.2V495.00H197.5V494.00H197.9V493.00H198.2V492.00H198.6V491.00H198.9V489.00H199.3V490.00H199.6V491.00H200.0V493.00H200.3V494.00H200.7V495.00H201.4V496.00H201.7V498.00H202.1V499.00H203.5V498.00H204.8V497.00H205.9V496.00H206.9V495.00H207.6V494.00H208.0V495.00H209.0V494.00H209.4V493.00H209.7V492.00H210.8V491.00H211.4V490.00H211.8V489.00H212.5V488.00H213.9V489.00H214.2V490.00H215.6V491.00H217.4V490.00H217.7V491.00H218.4V492.00H218.7V493.00H219.1V492.00H219.8V491.00H220.5V490.00H221.5V489.00H221.9V490.00H222.6V489.00H223.6V488.00H224.3V489.00H225.3V490.00H225.7V489.00H226.0V490.00H226.7V489.00H231.6V488.00H233.3V487.00H234.0V488.00H234.7V487.00H235.1V486.00H235.8V485.00H236.5V486.00H237.2V485.00H237.9V484.00H238.5V485.00H238.9V484.00H239.6V485.00H241.0V484.00H242.0V485.00H242.4V486.00H243.1V487.00H243.4V488.00H243.8V487.00H244.1V488.00H244.8V489.00H245.2V491.00H245.8V492.00H246.9V491.00H247.6V490.00H248.3V491.00H249.3V490.00H250.0V489.00H251.8V488.00H252.1V487.00H252.4V488.00H252.8V487.00H253.5V488.00H254.2V487.00H255.2V486.00H255.6V487.00H256.3V486.00H259.0V485.00H259.4V484.00H260.8V483.00H262.2V484.00H265.0V483.00H265.3V482.00H266.0V481.00H266.7V480.00H267.0V479.00H267.4V480.00H267.7V479.00H268.8V478.00H269.5V477.00H270.2V476.00H270.9V475.00H272.3V474.00H272.6V473.00H274.0V472.00H274.3V471.00H274.7V470.00H275.0V469.00H277.1V468.00H277.8V469.00H278.2V468.00H279.6V467.00H280.2V466.00H281.3V465.00H282.3V466.00H283.0V467.00H283.7V468.00H284.1V467.00H285.1V466.00H285.5V467.00H285.8V468.00H286.2V467.00H286.5V468.00H286.8V469.00H287.2V468.00H287.5V469.00H288.9V470.00H290.0V471.00H290.3V470.00H291.4V469.00H292.4V468.00H293.4V467.00H294.5V466.00H295.2V465.00H295.5V464.00H296.2V462.00H297.3V461.00H297.6V462.00H298.7V463.00H300.4V464.00H301.1V465.00H301.8V466.00H302.5V467.00H303.5V468.00H304.6V469.00H305.6V468.00H306.3V467.00H306.7V466.00H307.0V465.00H307.7V466.00H308.7V465.00H309.4V466.00H309.8V465.00H310.1V466.00H310.5V465.00H311.2V466.00H311.9V467.00H312.2V468.00H312.9V467.00H313.6V468.00H316.0V467.00H316.7V466.00H317.8V465.00H318.1V466.00H318.5V465.00H318.8V464.00H319.2V465.00H320.6V464.00H321.2V463.00H322.3V464.00H322.6V463.00H323.7V462.00H324.0V463.00H324.4V462.00H324.7V463.00H326.5V464.00H327.2V465.00H327.8V464.00H328.9V465.00H329.2V466.00H329.9V467.00H330.6V466.00H332.7V465.00H333.4V464.00H333.8V463.00H334.4V462.00H334.8V463.00H336.9V462.00H337.2V463.00H337.6V462.00H337.9V461.00H339.0V460.00H339.3V461.00H340.0V462.00H340.7V463.00H341.1V464.00H341.7V466.00H342.8V467.00H344.2V468.00H344.9V469.00H345.2V470.00H346.3V469.00H347.7V468.00H348.3V466.00H348.7V465.00H349.4V463.00H350.1V462.00H350.4V461.00H351.1V460.00H351.8V461.00H352.2V462.00H352.5V463.00H353.2V464.00H353.9V465.00H354.3V466.00H354.6V467.00H354.9V468.00H355.6V469.00H356.7V470.00H357.7V469.00H358.8V470.00H359.1V471.00H359.5V472.00H360.2V473.00H361.9V474.00H362.2V475.00H362.6V477.00H363.3V478.00H363.6V479.00H364.0V478.00H364.3V479.00H365.4V480.00H366.4V479.00H368.2V480.00H368.8V482.00H369.2V483.00H369.5V485.00H370.2V484.00H370.6V482.00H371.3V481.00H371.6V480.00H372.0V479.00H372.3V478.00H372.7V477.00H373.0V476.00H373.7V475.00H374.1V474.00H374.4V473.00H375.1V471.00H375.4V470.00H375.8V469.00H376.1V468.00H376.5V467.00H376.8V466.00H377.2V465.00H377.5V464.00H377.9V463.00H378.2V462.00H378.6V460.00H378.9V459.00H379.3V458.00H380.0V460.00H380.3V462.00H380.7V463.00H381.0V465.00H381.4V467.00H381.7V469.00H382.1V470.00H382.4V471.00H383.4V470.00H384.5V468.00H384.8V467.00H385.9V468.00H386.2V467.00H386.9V466.00H387.3V464.00H388.3V466.00H388.7V467.00H389.0V469.00H389.3V472.00H390.0V474.00H390.4V475.00H390.7V477.00H391.1V479.00H391.4V480.00H391.8V481.00H392.1V483.00H392.5V484.00H393.9V483.00H394.6V482.00H396.0V481.00H397.0V480.00H397.7V479.00H400.5V480.00H401.2V481.00H401.5V480.00H401.9V481.00H402.2V480.00H402.6V479.00H402.9V480.00H405.3V479.00H406.7V480.00H408.1V479.00H409.2V480.00H410.2V479.00H410.9V478.00H411.6V477.00H411.9V476.00H412.3V475.00H412.6V474.00H413.3V476.00H413.7V477.00H414.0V479.00H414.4V481.00H414.7V483.00H415.1V485.00H415.4V486.00H415.8V488.00H416.1V490.00H416.5V492.00H416.8V493.00H419.2V492.00H419.6V491.00H419.9V490.00H421.0V489.00H422.0V490.00H423.1V492.00H424.1V493.00H424.8V494.00H425.1V495.00H425.8V494.00H426.2V492.00H426.5V491.00H426.9V490.00H427.2V488.00H427.9V487.00H428.3V485.00H429.0V484.00H429.3V483.00H429.7V482.00H430.0V480.00H430.3V479.00H430.7V477.00H431.0V476.00H431.4V474.00H431.7V473.00H432.1V472.00H432.4V471.00H432.8V469.00H434.2V470.00H435.6V469.00H435.9V470.00H436.6V471.00H437.3V470.00H437.6V469.00H438.0V468.00H438.3V467.00H438.7V466.00H439.0V463.00H439.4V462.00H439.7V461.00H440.1V460.00H440.4V459.00H441.1V458.00H441.8V457.00H442.2V456.00H442.9V455.00H443.2V454.00H443.9V453.00H444.2V452.00H444.9V451.00H445.3V450.00H446.0V449.00H446.3V448.00H446.7V449.00H447.0V448.00H447.4V449.00H448.1V448.00H448.4V449.00H448.8V448.00H449.5V447.00H449.8V446.00H450.8V447.00H451.2V446.00H451.9V447.00H452.2V448.00H452.9V449.00H453.3V450.00H453.6V451.00H454.3V452.00H454.7V453.00H455.0V452.00H455.4V454.00H456.4V455.00H457.1V456.00H457.8V457.00H458.8V458.00H459.5V459.00H459.9V460.00H460.6V461.00H461.3V462.00H461.6V463.00H462.0V464.00H462.3V465.00H462.7V466.00H463.0V467.00H464.1V468.00H465.1V469.00H465.4V470.00H466.1V471.00H466.5V470.00H467.2V469.00H467.9V468.00H468.2V467.00H471.3V468.00H472.0V469.00H472.4V468.00H472.7V469.00H473.1V470.00H473.8V471.00H474.1V470.00H474.8V469.00H475.2V468.00H475.9V467.00H477.3V466.00H478.0V464.00H478.3V462.00H478.6V460.00H479.0V459.00H479.3V458.00H480.0V457.00H480.4V455.00H480.7V454.00H481.1V452.00H481.4V450.00H481.8V451.00H482.8V452.00H484.2V453.00H484.9V454.00H486.6V453.00H487.3V452.00H489.4V451.00H490.5V449.00H491.2V448.00H492.2V447.00H492.9V446.00H493.6V447.00H493.9V446.00H495.3V447.00H495.7V448.00H497.1V449.00H497.4V451.00H497.8V453.00H498.1V455.00H498.5V456.00H498.8V459.00H499.1V460.00H499.5V462.00H500.2V461.00H500.9V460.00H501.6V459.00H501.9V458.00H503.0V457.00H503.7V456.00H504.7V455.00H505.4V454.00H505.7V455.00H506.1V456.00H506.4V455.00H507.5V454.00H509.9V453.00H511.7V452.00H512.4V453.00H512.7V452.00H513.0V453.00H513.4V452.00H513.7V453.00H514.1V454.00H514.8V455.00H516.9V454.00H517.2V453.00H517.6V452.00H517.9V451.00H518.6V452.00H519.0V451.00H519.6V450.00H520.7V449.00H521.4V450.00H521.7V451.00H522.4V452.00H522.8V454.00H523.1V455.00H523.5V456.00H523.8V457.00H524.2V458.00H524.5V459.00H524.9V460.00H525.6V461.00H527.6V462.00H528.0V463.00H529.0V462.00H529.4V461.00H529.7V460.00H531.1V459.00H531.5V458.00H532.2V457.00H533.2V456.00H534.2V455.00H534.9V454.00H535.6V453.00H536.0V452.00H536.3V451.00H536.7V450.00H537.4V451.00H537.7V452.00H538.1V451.00H538.4V452.00H539.5V453.00H540.1V454.00H540.8V453.00H541.2V454.00H542.2V455.00H542.9V456.00H543.3V458.00H545.0V459.00H545.4V460.00H545.7V461.00H546.1V462.00H546.7V461.00H547.1V460.00H547.8V459.00H548.1V460.00H548.5V459.00H549.2V458.00H549.9V459.00H550.6V460.00H550.9V461.00H551.3V462.00H551.6V463.00H553.7V464.00H554.0V465.00H554.7V466.00H555.1V467.00H556.5V466.00H556.8V465.00H560.0V466.00H560.3V465.00H561.3V464.00H561.7V465.00H562.4V464.00H563.4V463.00H563.8V464.00H564.1V463.00H566.6V462.00H567.2V463.00H567.6V462.00H568.6V461.00H569.3V462.00H569.7V461.00H570.0V460.00H571.1V459.00H571.4V460.00H571.8V459.00H572.5V458.00H572.8V457.00H574.2V458.00H574.5V457.00H574.9V456.00H575.6V455.00H576.3V456.00H577.5" fill="none" stroke="#0000ff" stroke-width="2.60" stroke-linejoin="miter" stroke-linecap="butt"/>
<path d="M77.5 514.00H79.4V513.00H80.1V512.00H80.5V511.00H81.8V512.00H82.2V511.00H84.3V510.00H85.0V511.00H85.3V512.00H85.7V511.00H86.7V510.00H87.1V511.00H87.8V510.00H88.4V509.00H90.2V510.00H90.9V511.00H91.6V510.00H92.6V509.00H93.0V510.00H93.3V511.00H94.4V510.00H95.4V509.00H95.7V510.00H96.1V511.00H97.1V512.00H97.5V511.00H98.5V510.00H99.2V511.00H102.0V510.00H102.3V509.00H102.7V510.00H105.1V511.00H105.5V512.00H105.8V511.00H106.5V510.00H108.6V509.00H109.6V510.00H110.3V511.00H111.0V510.00H111.4V511.00H112.8V510.00H114.2V511.00H116.2V510.00H118.3V511.00H119.0V512.00H120.4V511.00H121.8V510.00H122.5V511.00H123.2V512.00H123.5V511.00H123.9V512.00H124.2V511.00H124.6V512.00H125.6V511.00H127.4V512.00H127.7V513.00H128.1V512.00H129.1V511.00H129.8V512.00H130.8V511.00H131.9V510.00H133.3V509.00H133.6V510.00H134.7V511.00H135.0V510.00H135.4V511.00H135.7V510.00H136.0V511.00H136.7V510.00H137.1V511.00H137.8V510.00H138.5V509.00H139.2V510.00H139.9V511.00H140.9V510.00H141.6V509.00H143.3V510.00H146.1V509.00H146.8V510.00H147.9V509.00H148.2V508.00H148.9V507.00H149.3V508.00H149.6V509.00H152.4V508.00H155.2V509.00H156.5V508.00H157.9V507.00H161.1V506.00H161.8V505.00H162.8V504.00H163.1V505.00H163.8V506.00H164.2V505.00H164.5V504.00H165.2V503.00H165.6V504.00H166.3V503.00H167.0V502.00H168.4V504.00H169.4V505.00H169.8V504.00H170.1V505.00H170.8V506.00H172.2V505.00H172.9V506.00H173.2V505.00H174.6V504.00H175.3V503.00H177.7V504.00H178.4V503.00H179.1V502.00H179.5V501.00H180.2V500.00H180.5V501.00H181.9V500.00H182.3V499.00H184.0V498.00H187.1V497.00H188.2V496.00H188.5V495.00H188.9V496.00H189.9V497.00H190.3V496.00H190.9V495.00H192.0V494.00H192.7V493.00H194.1V492.00H195.1V490.00H195.8V488.00H196.2V487.00H196.5V486.00H196.9V485.00H197.5V484.00H197.9V483.00H198.2V482.00H198.6V481.00H198.9V479.00H199.3V480.00H199.6V481.00H200.0V483.00H200.3V484.00H201.0V486.00H201.7V487.00H202.1V488.00H202.4V486.00H203.1V485.00H203.8V484.00H204.2V483.00H204.5V482.00H204.8V481.00H205.5V482.00H206.2V483.00H207.6V484.00H208.3V485.00H208.7V486.00H209.0V485.00H209.7V484.00H210.8V483.00H211.4V482.00H211.8V481.00H212.1V482.00H212.5V481.00H213.2V480.00H213.5V479.00H214.2V478.00H214.6V477.00H214.9V478.00H215.6V479.00H216.3V480.00H217.0V481.00H219.8V482.00H221.2V481.00H223.3V480.00H224.0V479.00H224.3V478.00H225.0V477.00H226.0V476.00H226.4V477.00H227.4V478.00H228.5V479.00H229.5V480.00H231.3V479.00H232.6V480.00H233.3V479.00H236.1V478.00H236.8V477.00H237.2V476.00H237.5V475.00H237.9V474.00H238.5V475.00H238.9V474.00H239.2V475.00H240.6V476.00H241.7V477.00H242.0V476.00H243.1V475.00H243.8V474.00H244.5V473.00H244.8V474.00H245.2V476.00H245.5V478.00H245.8V480.00H246.2V482.00H246.5V484.00H246.9V483.00H248.3V482.00H249.3V481.00H250.0V480.00H251.8V479.00H252.8V478.00H253.5V477.00H254.5V476.00H255.2V477.00H257.3V476.00H258.7V477.00H260.1V476.00H261.5V475.00H262.2V474.00H263.2V475.00H265.0V474.00H266.3V473.00H267.0V472.00H268.4V471.00H269.5V470.00H270.2V469.00H270.5V470.00H270.9V469.00H271.2V468.00H271.6V467.00H271.9V466.00H272.3V465.00H272.6V464.00H272.9V463.00H273.6V462.00H274.7V460.00H275.4V459.00H276.1V460.00H276.4V459.00H277.1V458.00H277.5V457.00H278.2V456.00H279.2V455.00H279.9V454.00H280.6V455.00H280.9V454.00H281.6V453.00H282.0V452.00H283.4V453.00H283.7V455.00H284.4V456.00H284.8V457.00H285.5V458.00H286.2V459.00H286.5V458.00H287.5V459.00H289.6V458.00H291.4V457.00H292.1V455.00H293.1V454.00H294.5V453.00H295.2V452.00H295.5V451.00H296.2V450.00H300.4V451.00H301.8V452.00H302.1V453.00H302.8V454.00H303.2V455.00H304.6V456.00H305.3V455.00H307.0V454.00H308.0V453.00H310.1V454.00H310.8V455.00H311.5V454.00H311.9V455.00H312.6V456.00H313.9V455.00H315.0V456.00H316.4V455.00H316.7V454.00H317.1V453.00H317.8V452.00H318.8V451.00H319.5V452.00H320.2V453.00H320.9V452.00H321.6V451.00H323.0V450.00H324.0V451.00H324.4V452.00H326.1V453.00H326.8V454.00H327.8V455.00H329.2V454.00H330.3V453.00H331.0V454.00H331.3V453.00H332.4V452.00H334.8V451.00H335.8V450.00H336.5V451.00H337.2V450.00H337.9V449.00H338.6V448.00H339.3V449.00H340.0V450.00H340.4V452.00H341.1V453.00H341.4V454.00H341.7V453.00H342.1V454.00H342.4V455.00H343.1V456.00H343.5V457.00H344.2V458.00H344.5V459.00H344.9V460.00H345.2V461.00H346.3V460.00H346.6V458.00H347.0V457.00H347.7V456.00H348.7V455.00H349.0V454.00H349.4V453.00H349.7V452.00H350.4V451.00H350.8V450.00H351.1V449.00H351.5V448.00H351.8V449.00H352.2V450.00H352.5V451.00H352.9V452.00H353.2V453.00H353.6V454.00H353.9V456.00H354.3V457.00H354.6V458.00H355.6V459.00H356.0V458.00H356.3V459.00H356.7V460.00H357.4V461.00H359.5V462.00H359.8V463.00H360.5V465.00H362.2V466.00H362.6V467.00H363.3V468.00H363.6V470.00H364.7V471.00H365.0V470.00H365.7V469.00H367.1V470.00H367.5V471.00H367.8V472.00H368.2V473.00H368.5V474.00H369.5V475.00H370.6V474.00H370.9V473.00H371.3V471.00H371.6V470.00H372.0V468.00H372.3V466.00H372.7V465.00H373.0V464.00H374.1V465.00H374.8V464.00H375.4V465.00H375.8V464.00H376.1V462.00H376.5V461.00H376.8V458.00H377.2V456.00H377.5V454.00H377.9V452.00H378.2V451.00H378.6V449.00H378.9V448.00H379.3V446.00H379.6V445.00H380.0V446.00H380.3V448.00H380.7V449.00H381.0V451.00H381.4V453.00H381.7V455.00H382.1V458.00H382.4V460.00H382.7V459.00H383.1V458.00H383.8V457.00H384.5V458.00H384.8V457.00H385.5V456.00H385.9V455.00H386.6V454.00H386.9V453.00H387.3V452.00H388.0V453.00H388.3V455.00H388.7V457.00H389.0V458.00H389.3V460.00H389.7V461.00H390.0V463.00H390.4V465.00H390.7V466.00H391.1V467.00H391.4V468.00H391.8V469.00H392.1V471.00H392.8V472.00H393.2V473.00H393.9V474.00H394.6V475.00H395.6V474.00H396.6V473.00H397.3V472.00H398.0V471.00H398.4V470.00H399.4V469.00H403.2V470.00H403.9V471.00H405.3V470.00H407.1V471.00H407.8V470.00H408.1V471.00H408.5V470.00H409.5V471.00H409.8V472.00H410.2V471.00H410.9V469.00H411.2V468.00H411.6V467.00H411.9V466.00H412.3V465.00H412.6V464.00H413.0V463.00H413.3V464.00H413.7V466.00H414.0V467.00H414.4V469.00H414.7V470.00H415.1V472.00H415.4V474.00H415.8V476.00H416.1V478.00H416.5V480.00H416.8V481.00H417.1V482.00H417.5V484.00H417.8V485.00H418.2V484.00H418.9V483.00H420.3V482.00H421.0V480.00H422.4V482.00H422.7V483.00H423.1V484.00H423.7V485.00H424.4V486.00H424.8V487.00H425.5V486.00H425.8V485.00H426.2V484.00H426.5V482.00H427.2V481.00H427.6V479.00H427.9V478.00H428.3V476.00H428.6V475.00H429.0V474.00H429.3V472.00H429.7V471.00H430.0V470.00H430.3V468.00H430.7V467.00H431.0V466.00H431.4V465.00H431.7V464.00H432.1V462.00H432.4V461.00H432.8V459.00H433.1V458.00H434.2V459.00H434.5V458.00H434.9V459.00H435.9V460.00H437.3V458.00H437.6V457.00H438.0V456.00H438.3V455.00H438.7V453.00H439.0V452.00H439.4V450.00H440.1V449.00H440.4V448.00H440.8V446.00H441.1V445.00H441.5V444.00H442.5V442.00H443.6V441.00H444.6V440.00H444.9V439.00H445.6V437.00H446.0V436.00H446.3V434.00H446.7V433.00H447.4V434.00H447.7V433.00H448.1V434.00H448.4V433.00H448.8V432.00H450.5V431.00H451.9V432.00H452.2V433.00H452.6V434.00H452.9V435.00H453.6V436.00H454.3V437.00H454.7V438.00H455.4V440.00H455.7V441.00H456.4V442.00H457.5V443.00H458.1V445.00H458.8V446.00H459.2V447.00H460.2V448.00H461.3V449.00H462.0V450.00H462.7V451.00H463.0V452.00H463.4V453.00H463.7V454.00H464.1V455.00H464.4V456.00H464.7V457.00H465.1V458.00H465.4V459.00H465.8V460.00H466.1V461.00H466.5V460.00H466.8V459.00H467.9V458.00H468.2V459.00H468.6V458.00H468.9V457.00H469.3V456.00H470.7V457.00H471.7V458.00H472.0V459.00H474.8V458.00H475.2V459.00H475.5V458.00H476.2V457.00H476.6V456.00H477.6V455.00H478.0V453.00H478.3V452.00H478.6V450.00H479.0V449.00H479.3V447.00H479.7V446.00H480.0V444.00H480.4V442.00H480.7V441.00H481.1V439.00H481.4V437.00H482.1V436.00H482.8V437.00H484.2V436.00H484.9V437.00H485.9V438.00H486.6V439.00H487.0V440.00H487.3V441.00H488.4V440.00H489.1V438.00H490.1V437.00H490.8V436.00H491.9V434.00H492.2V433.00H492.5V432.00H493.2V431.00H493.6V430.00H494.6V431.00H495.0V432.00H496.0V433.00H496.4V434.00H496.7V435.00H497.4V438.00H497.8V439.00H498.1V441.00H498.5V443.00H498.8V444.00H499.1V445.00H499.5V447.00H499.8V448.00H500.5V447.00H500.9V446.00H502.3V445.00H503.0V444.00H503.7V443.00H504.4V442.00H505.7V441.00H506.4V440.00H506.8V441.00H508.5V440.00H509.2V439.00H510.3V438.00H511.7V439.00H514.8V440.00H515.1V441.00H515.5V442.00H516.9V441.00H517.2V442.00H517.6V441.00H517.9V440.00H518.6V439.00H519.0V438.00H519.6V437.00H520.0V436.00H520.7V435.00H521.4V436.00H521.7V437.00H522.1V438.00H522.4V439.00H522.8V440.00H523.1V441.00H523.5V443.00H523.8V444.00H524.2V445.00H524.5V446.00H524.9V445.00H525.2V446.00H525.6V447.00H526.2V449.00H527.3V450.00H527.6V451.00H528.3V450.00H529.0V449.00H530.1V448.00H530.8V447.00H531.5V446.00H532.2V445.00H532.5V444.00H533.2V443.00H533.5V442.00H533.9V441.00H534.6V439.00H536.0V438.00H536.7V437.00H538.4V438.00H538.8V439.00H539.5V440.00H540.8V441.00H541.9V442.00H542.6V443.00H542.9V444.00H543.6V445.00H544.0V447.00H544.3V448.00H544.7V449.00H545.0V450.00H545.7V449.00H546.1V448.00H546.4V447.00H546.7V446.00H549.2V445.00H549.5V446.00H549.9V447.00H550.6V448.00H551.3V449.00H551.6V450.00H552.0V451.00H552.3V452.00H553.4V453.00H554.4V454.00H555.1V455.00H556.5V454.00H557.2V453.00H557.5V454.00H558.2V453.00H559.3V454.00H560.6V453.00H562.4V452.00H563.4V453.00H564.5V452.00H565.5V451.00H567.2V450.00H567.6V449.00H568.3V448.00H568.6V447.00H569.3V446.00H569.7V445.00H570.0V444.00H571.8V445.00H572.1V444.00H572.8V443.00H574.9V442.00H575.9V443.00H576.6V442.00H577.5" fill="none" stroke="#ff0000" stroke-width="2.60" stroke-linejoin="miter" stroke-linecap="butt"/>
</g>
<path d="M98.5 535.0V529.5M98.5 417.5V423.0M140.5 535.0V529.5M140.5 417.5V423.0M181.5 535.0V529.5M181.5 417.5V423.0M223.5 535.0V529.5M223.5 417.5V423.0M265.5 535.0V529.5M265.5 417.5V423.0M306.5 535.0V529.5M306.5 417.5V423.0M348.5 535.0V529.5M348.5 417.5V423.0M390.5 535.0V529.5M390.5 417.5V423.0M431.5 535.0V529.5M431.5 417.5V423.0M473.5 535.0V529.5M473.5 417.5V423.0M515.5 535.0V529.5M515.5 417.5V423.0M556.5 535.0V529.5M556.5 417.5V423.0M77.5 431.5h6.0M577.5 431.5h-6.0M77.5 461.5h6.0M577.5 461.5h-6.0M77.5 491.5h6.0M577.5 491.5h-6.0M77.5 521.5h6.0M577.5 521.5h-6.0" stroke="#000" stroke-width="1" fill="none"/>
<path d="M77.5 417.5H577.5V535.5H77.5Z" stroke="#000" stroke-width="1.2" fill="none"/>
<text x="72.50" y="542.00" font-size="16.70" text-anchor="end" textLength="28.76" lengthAdjust="spacingAndGlyphs">210</text>
<text x="72.50" y="513.00" font-size="16.70" text-anchor="end" textLength="28.76" lengthAdjust="spacingAndGlyphs">220</text>
<text x="72.50" y="483.00" font-size="16.70" text-anchor="end" textLength="28.76" lengthAdjust="spacingAndGlyphs">230</text>
<text x="72.50" y="453.00" font-size="16.70" text-anchor="end" textLength="28.76" lengthAdjust="spacingAndGlyphs">240</text>
<text x="72.50" y="424.00" font-size="16.70" text-anchor="end" textLength="28.76" lengthAdjust="spacingAndGlyphs">250</text>
<text x="584.00" y="542.00" font-size="16.70" textLength="28.76" lengthAdjust="spacingAndGlyphs">100</text>
<text x="584.00" y="518.40" font-size="16.70" textLength="28.76" lengthAdjust="spacingAndGlyphs">120</text>
<text x="584.00" y="494.80" font-size="16.70" textLength="28.76" lengthAdjust="spacingAndGlyphs">140</text>
<text x="584.00" y="471.20" font-size="16.70" textLength="28.76" lengthAdjust="spacingAndGlyphs">160</text>
<text x="584.00" y="447.60" font-size="16.70" textLength="28.76" lengthAdjust="spacingAndGlyphs">180</text>
<text x="584.00" y="424.00" font-size="16.70" textLength="28.76" lengthAdjust="spacingAndGlyphs">200</text>
<text x="78.50" y="553.80" font-size="16.70" text-anchor="middle" textLength="9.59" lengthAdjust="spacingAndGlyphs">0</text>
<text x="120.17" y="553.80" font-size="16.70" text-anchor="middle" textLength="9.59" lengthAdjust="spacingAndGlyphs">2</text>
<text x="161.83" y="553.80" font-size="16.70" text-anchor="middle" textLength="9.59" lengthAdjust="spacingAndGlyphs">4</text>
<text x="203.50" y="553.80" font-size="16.70" text-anchor="middle" textLength="9.59" lengthAdjust="spacingAndGlyphs">6</text>
<text x="245.17" y="553.80" font-size="16.70" text-anchor="middle" textLength="9.59" lengthAdjust="spacingAndGlyphs">8</text>
<text x="286.83" y="553.80" font-size="16.70" text-anchor="middle" textLength="19.17" lengthAdjust="spacingAndGlyphs">10</text>
<text x="328.50" y="553.80" font-size="16.70" text-anchor="middle" textLength="19.17" lengthAdjust="spacingAndGlyphs">12</text>
<text x="370.17" y="553.80" font-size="16.70" text-anchor="middle" textLength="19.17" lengthAdjust="spacingAndGlyphs">14</text>
<text x="411.83" y="553.80" font-size="16.70" text-anchor="middle" textLength="19.17" lengthAdjust="spacingAndGlyphs">16</text>
<text x="453.50" y="553.80" font-size="16.70" text-anchor="middle" textLength="19.17" lengthAdjust="spacingAndGlyphs">18</text>
<text x="495.17" y="553.80" font-size="16.70" text-anchor="middle" textLength="19.17" lengthAdjust="spacingAndGlyphs">20</text>
<text x="536.83" y="553.80" font-size="16.70" text-anchor="middle" textLength="19.17" lengthAdjust="spacingAndGlyphs">22</text>
<text x="578.50" y="553.80" font-size="16.70" text-anchor="middle" textLength="19.17" lengthAdjust="spacingAndGlyphs">24</text>
<line x1="95" y1="83.0" x2="121" y2="83.0" stroke="#ff0000" stroke-width="1.9"/>
<line x1="119.5" y1="81.5" x2="119.5" y2="84.5" stroke="#000" stroke-width="1"/>
<text x="132.50" y="86.70" font-size="12.40" textLength="44.32" lengthAdjust="spacingAndGlyphs">system</text>
<line x1="95" y1="95.1" x2="121" y2="95.1" stroke="#00ff00" stroke-width="1.9"/>
<line x1="119.5" y1="93.6" x2="119.5" y2="96.6" stroke="#000" stroke-width="1"/>
<text x="132.50" y="98.70" font-size="12.40" textLength="42.02" lengthAdjust="spacingAndGlyphs">sensor</text>
<line x1="95" y1="109.0" x2="121" y2="109.0" stroke="#0000ff" stroke-width="1.9"/>
<line x1="119.5" y1="107.5" x2="119.5" y2="110.5" stroke="#000" stroke-width="1"/>
<text x="132.50" y="113.60" font-size="12.40" textLength="18.60" lengthAdjust="spacingAndGlyphs">air</text>
<line x1="95" y1="261.9" x2="121" y2="261.9" stroke="#ff0000" stroke-width="1.9"/>
<line x1="119.5" y1="260.4" x2="119.5" y2="263.4" stroke="#000" stroke-width="1"/>
<text x="132.50" y="265.60" font-size="12.40" textLength="62.79" lengthAdjust="spacingAndGlyphs">SW signal</text>
<line x1="95" y1="274.8" x2="121" y2="274.8" stroke="#00ff00" stroke-width="1.9"/>
<line x1="119.5" y1="273.3" x2="119.5" y2="276.3" stroke="#000" stroke-width="1"/>
<text x="132.50" y="280.40" font-size="12.40" textLength="91.97" lengthAdjust="spacingAndGlyphs">SW irradiance</text>
<line x1="95" y1="439.9" x2="121" y2="439.9" stroke="#0000ff" stroke-width="1.9"/>
<line x1="119.5" y1="438.4" x2="119.5" y2="441.4" stroke="#000" stroke-width="1"/>
<text x="132.50" y="443.60" font-size="12.40" textLength="80.93" lengthAdjust="spacingAndGlyphs">brightness T</text>
<line x1="95" y1="454.0" x2="121" y2="454.0" stroke="#ff0000" stroke-width="1.9"/>
<line x1="119.5" y1="452.5" x2="119.5" y2="455.5" stroke="#000" stroke-width="1"/>
<text x="132.50" y="458.90" font-size="12.40" textLength="92.65" lengthAdjust="spacingAndGlyphs">LW irradiance</text>
<g transform="translate(33.10 153.15) rotate(-90)">
<text x="0.00" y="0.00" font-size="16.63" textLength="12.13" lengthAdjust="spacingAndGlyphs">T</text>
<text x="12.13" y="6.30" font-size="11.68" textLength="19.01" lengthAdjust="spacingAndGlyphs">sys</text>
<text x="35.96" y="0.00" font-size="16.63" textLength="32.86" lengthAdjust="spacingAndGlyphs">[°C]</text>
</g>
<g transform="translate(626.60 153.15) rotate(-90)">
<text x="0.00" y="0.00" font-size="16.63" textLength="12.13" lengthAdjust="spacingAndGlyphs">T</text>
<text x="12.13" y="6.30" font-size="11.68" textLength="17.70" lengthAdjust="spacingAndGlyphs">air</text>
<text x="34.65" y="0.00" font-size="16.63" textLength="32.86" lengthAdjust="spacingAndGlyphs">[°C]</text>
</g>
<g transform="translate(40.80 354.87) rotate(-90)">
<text x="0.00" y="0.00" font-size="16.63" textLength="26.44" lengthAdjust="spacingAndGlyphs">log</text>
<text x="25.64" y="6.30" font-size="11.68" textLength="6.77" lengthAdjust="spacingAndGlyphs">2</text>
<text x="36.44" y="0.00" font-size="16.63" textLength="78.24" lengthAdjust="spacingAndGlyphs">SW [bits]</text>
</g>
<g transform="translate(637.00 340.86) rotate(-90)">
<text x="0.00" y="0.00" font-size="16.63" textLength="76.37" lengthAdjust="spacingAndGlyphs">SW [W/m</text>
<text x="74.57" y="-10.50" font-size="11.68" textLength="6.77" lengthAdjust="spacingAndGlyphs">2</text>
<text x="80.65" y="0.00" font-size="16.63" textLength="6.54" lengthAdjust="spacingAndGlyphs">]</text>
</g>
<g transform="translate(36.20 503.69) rotate(-90)">
<text x="0.00" y="0.00" font-size="16.63" textLength="56.78" lengthAdjust="spacingAndGlyphs">BT [K]</text>
</g>
<g transform="translate(637.00 521.92) rotate(-90)">
<text x="0.00" y="0.00" font-size="16.63" textLength="77.30" lengthAdjust="spacingAndGlyphs">LW [W/m</text>
<text x="75.30" y="-10.50" font-size="11.68" textLength="6.77" lengthAdjust="spacingAndGlyphs">2</text>
<text x="83.77" y="0.00" font-size="16.63" textLength="6.54" lengthAdjust="spacingAndGlyphs">]</text>
</g>
<text x="328.50" y="571.90" font-size="16.63" text-anchor="middle" textLength="126.30" lengthAdjust="spacingAndGlyphs">Local Time [h]</text>
</svg>
</body></html>
